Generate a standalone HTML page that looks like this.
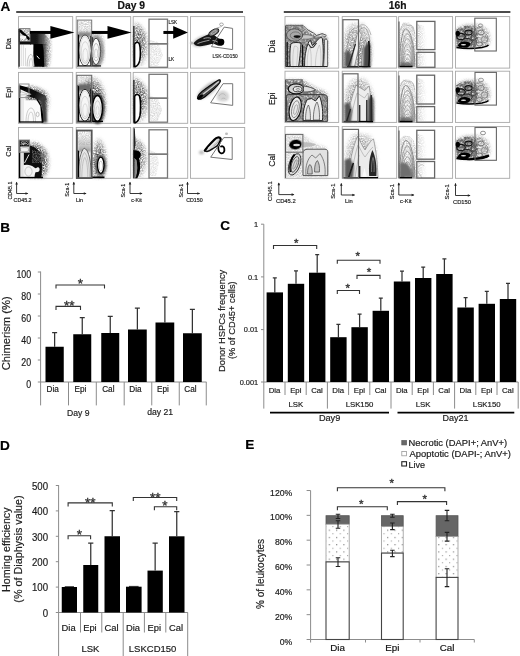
<!DOCTYPE html><html><head><meta charset="utf-8"><title>Figure</title>
<style>html,body{margin:0;padding:0;background:#fff;}svg{display:block;}text{font-family:'Liberation Sans', Arial, Helvetica, sans-serif;stroke:currentColor;stroke-width:0.18px;}</style></head><body>
<svg width="520" height="656" viewBox="0 0 520 656">
<defs>
<filter id="b05" x="-20%" y="-20%" width="140%" height="140%"><feGaussianBlur stdDeviation="0.5"/></filter>
<filter id="b1" x="-30%" y="-30%" width="160%" height="160%"><feGaussianBlur stdDeviation="1"/></filter>
<filter id="b2" x="-30%" y="-30%" width="160%" height="160%"><feGaussianBlur stdDeviation="2"/></filter>
<filter id="spk" x="-10%" y="-10%" width="120%" height="120%"><feGaussianBlur in="SourceGraphic" stdDeviation="1.6" result="bl"/><feTurbulence type="fractalNoise" baseFrequency="0.75" numOctaves="2" seed="7" result="n"/><feColorMatrix in="n" type="matrix" values="0 0 0 0 0  0 0 0 0 0  0 0 0 0 0  1.8 0 0 0 -0.35" result="m"/><feComposite in="bl" in2="m" operator="in"/></filter>
<filter id="spk2" x="-10%" y="-10%" width="120%" height="120%"><feGaussianBlur in="SourceGraphic" stdDeviation="0.6" result="bl"/><feTurbulence type="fractalNoise" baseFrequency="0.9" numOctaves="2" seed="11" result="n"/><feColorMatrix in="n" type="matrix" values="0 0 0 0 0  0 0 0 0 0  0 0 0 0 0  2.2 0 0 0 -0.55" result="m"/><feComposite in="bl" in2="m" operator="in"/></filter>
<filter id="mot" x="0" y="0" width="100%" height="100%"><feTurbulence type="fractalNoise" baseFrequency="0.45" numOctaves="2" seed="5" result="n"/><feColorMatrix in="n" type="matrix" values="0 0 0 0 0  0 0 0 0 0  0 0 0 0 0  0 0 0 2.2 -0.45" result="m"/><feComposite in="SourceGraphic" in2="m" operator="in"/></filter>
<pattern id="hatch" width="2.6" height="2.6" patternUnits="userSpaceOnUse" patternTransform="rotate(45)"><rect width="2.6" height="2.6" fill="none"/><rect width="0.5" height="2.6" fill="#d6d6d6"/></pattern>
</defs>
<rect width="520" height="656" fill="#fff"/>
<text x="0.6" y="10.6" font-size="13.6" text-anchor="start" font-weight="bold" fill="#000" color="#000">A</text>
<text x="131.3" y="8.6" font-size="10.3" text-anchor="middle" font-weight="bold" fill="#111" color="#111">Day 9</text>
<text x="397.6" y="8.6" font-size="10.3" text-anchor="middle" font-weight="bold" fill="#111" color="#111">16h</text>
<line x1="16.2" y1="12.0" x2="243.0" y2="12.0" stroke="#111" stroke-width="1.4"/>
<line x1="283.8" y1="12.0" x2="510.4" y2="12.0" stroke="#111" stroke-width="1.4"/>
<rect x="18.5" y="16.6" width="54.2" height="51.49999999999999" fill="#fff" stroke="#a8a8a8" stroke-width="0.9"/>
<rect x="18.5" y="72.4" width="54.2" height="50.89999999999999" fill="#fff" stroke="#a8a8a8" stroke-width="0.9"/>
<rect x="18.5" y="127.5" width="54.2" height="50.80000000000001" fill="#fff" stroke="#a8a8a8" stroke-width="0.9"/>
<rect x="76.2" y="16.6" width="54.499999999999986" height="51.49999999999999" fill="#fff" stroke="#a8a8a8" stroke-width="0.9"/>
<rect x="76.2" y="72.4" width="54.499999999999986" height="50.89999999999999" fill="#fff" stroke="#a8a8a8" stroke-width="0.9"/>
<rect x="76.2" y="127.5" width="54.499999999999986" height="50.80000000000001" fill="#fff" stroke="#a8a8a8" stroke-width="0.9"/>
<rect x="133.2" y="16.6" width="54.5" height="51.49999999999999" fill="#fff" stroke="#a8a8a8" stroke-width="0.9"/>
<rect x="133.2" y="72.4" width="54.5" height="50.89999999999999" fill="#fff" stroke="#a8a8a8" stroke-width="0.9"/>
<rect x="133.2" y="127.5" width="54.5" height="50.80000000000001" fill="#fff" stroke="#a8a8a8" stroke-width="0.9"/>
<rect x="190.5" y="16.6" width="54.19999999999999" height="51.49999999999999" fill="#fff" stroke="#a8a8a8" stroke-width="0.9"/>
<rect x="190.5" y="72.4" width="54.19999999999999" height="50.89999999999999" fill="#fff" stroke="#a8a8a8" stroke-width="0.9"/>
<rect x="190.5" y="127.5" width="54.19999999999999" height="50.80000000000001" fill="#fff" stroke="#a8a8a8" stroke-width="0.9"/>
<rect x="285" y="16.6" width="53.69999999999999" height="51.49999999999999" fill="#fff" stroke="#a8a8a8" stroke-width="0.9"/>
<rect x="285" y="71.2" width="53.69999999999999" height="51.2" fill="#fff" stroke="#a8a8a8" stroke-width="0.9"/>
<rect x="285" y="126.6" width="53.69999999999999" height="51.70000000000002" fill="#fff" stroke="#a8a8a8" stroke-width="0.9"/>
<rect x="342.2" y="16.6" width="54.5" height="51.49999999999999" fill="#fff" stroke="#a8a8a8" stroke-width="0.9"/>
<rect x="342.2" y="71.2" width="54.5" height="51.2" fill="#fff" stroke="#a8a8a8" stroke-width="0.9"/>
<rect x="342.2" y="126.6" width="54.5" height="51.70000000000002" fill="#fff" stroke="#a8a8a8" stroke-width="0.9"/>
<rect x="398.6" y="16.6" width="54.0" height="51.49999999999999" fill="#fff" stroke="#a8a8a8" stroke-width="0.9"/>
<rect x="398.6" y="71.2" width="54.0" height="51.2" fill="#fff" stroke="#a8a8a8" stroke-width="0.9"/>
<rect x="398.6" y="126.6" width="54.0" height="51.70000000000002" fill="#fff" stroke="#a8a8a8" stroke-width="0.9"/>
<rect x="455.5" y="16.6" width="54.19999999999999" height="51.49999999999999" fill="#fff" stroke="#a8a8a8" stroke-width="0.9"/>
<rect x="455.5" y="71.2" width="54.19999999999999" height="51.2" fill="#fff" stroke="#a8a8a8" stroke-width="0.9"/>
<rect x="455.5" y="126.6" width="54.19999999999999" height="51.70000000000002" fill="#fff" stroke="#a8a8a8" stroke-width="0.9"/>
<text x="11.0" y="43.8" font-size="7.4" text-anchor="middle" font-weight="normal" fill="#222" color="#222" transform="rotate(-90 11.0 43.8)">Dia</text>
<text x="11.0" y="92.4" font-size="7.4" text-anchor="middle" font-weight="normal" fill="#222" color="#222" transform="rotate(-90 11.0 92.4)">Epi</text>
<text x="11.0" y="151.1" font-size="7.4" text-anchor="middle" font-weight="normal" fill="#222" color="#222" transform="rotate(-90 11.0 151.1)">Cal</text>
<text x="274.6" y="46.3" font-size="8.6" text-anchor="middle" font-weight="normal" fill="#222" color="#222" transform="rotate(-90 274.6 46.3)">Dia</text>
<text x="274.6" y="98.8" font-size="8.6" text-anchor="middle" font-weight="normal" fill="#222" color="#222" transform="rotate(-90 274.6 98.8)">Epi</text>
<text x="274.6" y="160.2" font-size="8.6" text-anchor="middle" font-weight="normal" fill="#222" color="#222" transform="rotate(-90 274.6 160.2)">Cal</text>
<path d="M16.6,182.3 V193.5 H27.7" fill="none" stroke="#222" stroke-width="0.9"/>
<path d="M15.3,184.5 L16.6,181.70000000000002 L17.900000000000002,184.5Z M25.5,192.2 L28.3,193.5 L25.5,194.8Z" fill="#222"/>
<text x="13.6" y="201.8" font-size="5.3" text-anchor="start" font-weight="normal" fill="#222" color="#222">CD45.2</text>
<text x="12.0" y="190.6" font-size="5.3" text-anchor="middle" font-weight="normal" fill="#222" color="#222" transform="rotate(-90 12.0 190.6)">CD45.1</text>
<path d="M73.8,182.3 V193.5 H86.0" fill="none" stroke="#222" stroke-width="0.9"/>
<path d="M72.5,184.5 L73.8,181.70000000000002 L75.1,184.5Z M83.8,192.2 L86.6,193.5 L83.8,194.8Z" fill="#222"/>
<text x="76.0" y="201.8" font-size="5.3" text-anchor="start" font-weight="normal" fill="#222" color="#222">Lin</text>
<text x="68.8" y="189.8" font-size="5.3" text-anchor="middle" font-weight="normal" fill="#222" color="#222" transform="rotate(-90 68.8 189.8)">Sca-1</text>
<path d="M130.0,182.3 V193.5 H142.0" fill="none" stroke="#222" stroke-width="0.9"/>
<path d="M128.7,184.5 L130.0,181.70000000000002 L131.3,184.5Z M139.8,192.2 L142.6,193.5 L139.8,194.8Z" fill="#222"/>
<text x="131.2" y="201.8" font-size="5.3" text-anchor="start" font-weight="normal" fill="#222" color="#222">c-Kit</text>
<text x="125.0" y="190.6" font-size="5.3" text-anchor="middle" font-weight="normal" fill="#222" color="#222" transform="rotate(-90 125.0 190.6)">Sca-1</text>
<path d="M187.5,182.3 V193.5 H199.5" fill="none" stroke="#222" stroke-width="0.9"/>
<path d="M186.2,184.5 L187.5,181.70000000000002 L188.8,184.5Z M197.3,192.2 L200.1,193.5 L197.3,194.8Z" fill="#222"/>
<text x="186.2" y="201.8" font-size="5.3" text-anchor="start" font-weight="normal" fill="#222" color="#222">CD150</text>
<text x="183.0" y="190.6" font-size="5.3" text-anchor="middle" font-weight="normal" fill="#222" color="#222" transform="rotate(-90 183.0 190.6)">Sca-1</text>
<path d="M278.8,183.0 V194.6 H293.8" fill="none" stroke="#222" stroke-width="0.9"/>
<path d="M277.5,185.2 L278.8,182.4 L280.1,185.2Z M291.6,193.29999999999998 L294.40000000000003,194.6 L291.6,195.9Z" fill="#222"/>
<text x="276.0" y="202.9" font-size="5.8" text-anchor="start" font-weight="normal" fill="#222" color="#222">CD45.2</text>
<text x="272.4" y="191.2" font-size="5.8" text-anchor="middle" font-weight="normal" fill="#222" color="#222" transform="rotate(-90 272.4 191.2)">CD45.1</text>
<path d="M341.3,183.5 V195.0 H354.5" fill="none" stroke="#222" stroke-width="0.9"/>
<path d="M340.0,185.7 L341.3,182.9 L342.6,185.7Z M352.3,193.7 L355.1,195.0 L352.3,196.3Z" fill="#222"/>
<text x="345.0" y="203.3" font-size="5.8" text-anchor="start" font-weight="normal" fill="#222" color="#222">Lin</text>
<text x="335.0" y="191.2" font-size="5.8" text-anchor="middle" font-weight="normal" fill="#222" color="#222" transform="rotate(-90 335.0 191.2)">Sca-1</text>
<path d="M398.8,183.0 V195.0 H413.8" fill="none" stroke="#222" stroke-width="0.9"/>
<path d="M397.5,185.2 L398.8,182.4 L400.1,185.2Z M411.6,193.7 L414.40000000000003,195.0 L411.6,196.3Z" fill="#222"/>
<text x="400.0" y="203.3" font-size="5.8" text-anchor="start" font-weight="normal" fill="#222" color="#222">c-Kit</text>
<text x="393.6" y="191.6" font-size="5.8" text-anchor="middle" font-weight="normal" fill="#222" color="#222" transform="rotate(-90 393.6 191.6)">Sca-1</text>
<path d="M455.5,183.5 V195.5 H470.0" fill="none" stroke="#222" stroke-width="0.9"/>
<path d="M454.2,185.7 L455.5,182.9 L456.8,185.7Z M467.8,194.2 L470.6,195.5 L467.8,196.8Z" fill="#222"/>
<text x="453.0" y="203.8" font-size="5.8" text-anchor="start" font-weight="normal" fill="#222" color="#222">CD150</text>
<text x="449.4" y="191.8" font-size="5.8" text-anchor="middle" font-weight="normal" fill="#222" color="#222" transform="rotate(-90 449.4 191.8)">Sca-1</text>
<defs><linearGradient id="g1" gradientUnits="userSpaceOnUse" x1="30" y1="0" x2="50" y2="0"><stop offset="0" stop-color="#111" stop-opacity="1"/><stop offset="0.35" stop-color="#1a1a1a" stop-opacity="1"/><stop offset="0.7" stop-color="#555" stop-opacity="0.9"/><stop offset="1" stop-color="#999" stop-opacity="0"/></linearGradient></defs>
<polygon points="30,33.6 46,33.6 50.5,40 50.5,55 49,66.8 30,66.8" fill="#8a8a8a" filter="url(#spk)"/>
<polygon points="30,34.0 45,34.0 49.5,39 49.5,45 30,45" fill="url(#g1)" filter="url(#b05)"/>
<defs><linearGradient id="g2" gradientUnits="userSpaceOnUse" x1="42" y1="0" x2="49" y2="0"><stop offset="0" stop-color="#222" stop-opacity="1"/><stop offset="0.5" stop-color="#555" stop-opacity="0.8"/><stop offset="1" stop-color="#999" stop-opacity="0"/></linearGradient></defs>
<polygon points="41.5,44 49,44 49.2,66.7 42,66.7" fill="url(#g2)" filter="url(#b05)"/>
<polygon points="33,44 42.5,44 43.6,50 44.2,66.7 33.4,66.7" fill="#050505" filter="url(#b05)"/>
<polygon points="20.4,44.4 33.4,44.4 33.2,55 34.4,66.5 20.4,66.5" fill="#fbfbfb"/>
<path d="M27.2,66.4 C27,60 28.8,54.5 30.8,54.5 C32.8,54.5 33.8,60 33.8,66.4" fill="none" stroke="#9a9a9a" stroke-width="0.6"/>
<path d="M29.2,66.4 C29.2,62 30,58.5 31,58.5 C32.2,58.5 32.6,62 32.6,66.4" fill="none" stroke="#aaa" stroke-width="0.6"/>
<path d="M21.3,45 V66 M23.4,45 V66 M25.5,48 V66" fill="none" stroke="#c6c6c6" stroke-width="0.6"/>
<path d="M36.8,55.8 L39.4,58.8" fill="none" stroke="#fff" stroke-width="1.0"/>
<polygon points="19.3,28.7 30,28.7 30,41.2 19.3,41.2" fill="#9a9a9a" filter="url(#spk2)"/>
<path d="M19.6,30.2 L29.6,39.4" fill="none" stroke="#000" stroke-width="2.6" filter="url(#b05)"/>
<ellipse cx="23.2" cy="37.2" rx="3.2" ry="1.8" fill="#f6f6f6" stroke="none" stroke-width="1"/>
<polygon points="19.6,41 30,41 31,44.5 19.6,44.5" fill="#111" filter="url(#b05)"/>
<rect x="19.25" y="28.6" width="10.75" height="12.699999999999996" fill="none" stroke="#777" stroke-width="0.9"/>
<line x1="19.1" y1="29" x2="19.1" y2="66.8" stroke="#111" stroke-width="1.2"/>
<line x1="30" y1="32.45" x2="51.4" y2="32.45" stroke="#000" stroke-width="3.0"/>
<polygon points="50.4,26.1 74.4,32.45 50.4,38.800000000000004" fill="#000"/>
<rect x="77.6" y="21" width="14" height="13" fill="#cfcfcf" stroke="none" stroke-width="1" filter="url(#spk2)"/>
<polygon points="78,32 91.2,32 91.2,37.5 78,37.5" fill="#8a8a8a" filter="url(#b1)"/>
<ellipse cx="96.2" cy="51.2" rx="7.6" ry="15.6" fill="#7a7a7a" stroke="none" stroke-width="1" filter="url(#b1)"/>
<polygon points="92,33 101,34 104,40 104,60 100,66.5 92,66.5" fill="#aaa" filter="url(#spk)"/>
<polygon points="90.3,35.5 92.8,37.5 92.6,65.8 90.3,65.8" fill="#111" filter="url(#b05)"/>
<ellipse cx="85.0" cy="50.4" rx="6.1" ry="15.4" fill="#f0f0f0" stroke="#333" stroke-width="0.9"/>
<ellipse cx="85.0" cy="50.4" rx="5.4" ry="14.6" fill="#f6f6f6" stroke="none" stroke-width="1"/>
<ellipse cx="85.0" cy="50.0" rx="4.8" ry="13.4" fill="none" stroke="#c8c8c8" stroke-width="0.5"/>
<ellipse cx="85.2" cy="52.5" rx="4.0" ry="10.8" fill="none" stroke="#bdbdbd" stroke-width="0.55"/>
<ellipse cx="85.3" cy="55" rx="2.4" ry="6.5" fill="none" stroke="#c4c4c4" stroke-width="0.55"/>
<ellipse cx="96.05" cy="51.4" rx="4.35" ry="13.2" fill="#fbfbfb" stroke="#333" stroke-width="0.9"/>
<ellipse cx="96.1" cy="52.2" rx="2.9" ry="8.8" fill="none" stroke="#999" stroke-width="0.6"/>
<ellipse cx="96.1" cy="53.4" rx="1.5" ry="4.6" fill="none" stroke="#aaa" stroke-width="0.55"/>
<polygon points="77.5,34 79.2,35 79.2,66.4 77.5,66.4" fill="#000"/>
<line x1="77.6" y1="65.9" x2="101" y2="65.9" stroke="#111" stroke-width="1.2"/>
<rect x="77.3" y="20.1" width="14.400000000000006" height="46.49999999999999" fill="none" stroke="#777" stroke-width="1.0"/>
<line x1="91.7" y1="32.45" x2="108.5" y2="32.45" stroke="#000" stroke-width="3.0"/>
<polygon points="107.5,26.1 131.6,32.45 107.5,38.800000000000004" fill="#000"/>
<defs><radialGradient id="g3" gradientUnits="userSpaceOnUse" cx="138" cy="44" r="12" gradientTransform="translate(0 44) scale(1 2.1666666666666665) translate(0 -44)"><stop offset="0" stop-color="#333" stop-opacity="1"/><stop offset="0.45" stop-color="#555" stop-opacity="1"/><stop offset="0.75" stop-color="#999" stop-opacity="0.8"/><stop offset="1" stop-color="#ccc" stop-opacity="0"/></radialGradient></defs>
<polygon points="133.6,20 140,24 146,32 149,44 148,58 146,67 133.6,67" fill="url(#g3)" filter="url(#spk)"/>
<polygon points="150,40 158,42 163,55 158,66 150,66" fill="#e0e0e0" filter="url(#spk2)"/>
<path d="M134.6,66.6 L134.6,44.2 C135.4,42.2 137.6,41.6 139.2,43.6 C140.6,47.2 140.6,56 139.8,60.2 C139,63.8 137.2,66.2 135.2,66.8 Z" fill="#fff" stroke="#000" stroke-width="1.5"/>
<line x1="133.9" y1="26" x2="133.9" y2="67.2" stroke="#111" stroke-width="1.2"/>
<rect x="149" y="19.2" width="18.5" height="24.599999999999998" fill="none" stroke="#777" stroke-width="1.3"/>
<rect x="149" y="43.8" width="18.5" height="23.5" fill="none" stroke="#777" stroke-width="1.3"/>
<text x="168.5" y="23.9" font-size="5.0" text-anchor="start" font-weight="normal" fill="#222" color="#222" textLength="8.6" lengthAdjust="spacingAndGlyphs">LSK</text>
<text x="168.5" y="60.7" font-size="5.0" text-anchor="start" font-weight="normal" fill="#222" color="#222" textLength="5.6" lengthAdjust="spacingAndGlyphs">LK</text>
<line x1="163.4" y1="32.45" x2="174.2" y2="32.45" stroke="#000" stroke-width="3.0"/>
<polygon points="173.2,26.1 187.9,32.45 173.2,38.800000000000004" fill="#000"/>
<ellipse cx="203" cy="41" rx="11" ry="5" fill="#c4c4c4" stroke="none" stroke-width="1" transform="rotate(-20 203 41)" filter="url(#b1)"/>
<path d="M193.5,43.2 C196,39.6 202,37 208,34.5 C211,33.2 214,34.5 216,36.5 C218,38.5 220,38.8 222.5,39.2 C224.6,40.2 224.8,43.8 222.6,45.2 C220.4,46.4 217.6,45.6 215.4,44.4 C213,43.4 210,44.2 205,45.6 C199,47 195,46.2 193.5,43.2 Z" fill="#161616" stroke="none" stroke-width="1" filter="url(#b05)"/>
<ellipse cx="213.8" cy="32.4" rx="5.6" ry="2.6" fill="#7a7a7a" stroke="#111" stroke-width="0.9" transform="rotate(-32 213.8 32.4)"/>
<ellipse cx="213.8" cy="32.4" rx="3.0" ry="1.1" fill="none" stroke="#ccc" stroke-width="0.6" transform="rotate(-32 213.8 32.4)"/>
<path d="M197.5,43.6 C201,42 205,41.2 209.5,40.2 M203.5,38.6 C206.5,37.6 209,37.4 211,38.4 M212.5,40.6 C215,40.4 217,41.4 218.4,42.6" fill="none" stroke="#d8d8d8" stroke-width="0.7"/>
<ellipse cx="221.0" cy="42.0" rx="3.3" ry="3.3" fill="#050505" stroke="none" stroke-width="1" filter="url(#b05)"/>
<path d="M214.4,28.9 L221.8,26.4 M212.4,31.2 L218.6,27.6" fill="none" stroke="#999" stroke-width="0.6"/>
<ellipse cx="221.5" cy="24.4" rx="1.9" ry="1.4" fill="none" stroke="#888" stroke-width="0.7"/>
<ellipse cx="191.5" cy="43" rx="1.8" ry="1.5" fill="#bbb" stroke="none" stroke-width="1" filter="url(#b05)"/>
<polygon points="224.2,27.1 232.6,28.4 232.6,49.6 211.4,46.6" fill="none" stroke="#777" stroke-width="1.0"/>
<text x="212.4" y="58.4" font-size="6.2" text-anchor="start" font-weight="normal" fill="#222" color="#222" textLength="25.3" lengthAdjust="spacingAndGlyphs">LSK-CD150</text>
<defs><radialGradient id="g4" gradientUnits="userSpaceOnUse" cx="36" cy="100" r="15" gradientTransform="translate(0 100) scale(1 1.6) translate(0 -100)"><stop offset="0" stop-color="#222" stop-opacity="1"/><stop offset="0.5" stop-color="#444" stop-opacity="1"/><stop offset="0.8" stop-color="#888" stop-opacity="0.8"/><stop offset="1" stop-color="#ccc" stop-opacity="0"/></radialGradient></defs>
<polygon points="26,85 36,87 46,91 51,100 50,112 47.5,122.6 26,122.6" fill="url(#g4)" filter="url(#spk)"/>
<defs><linearGradient id="g5" gradientUnits="userSpaceOnUse" x1="20" y1="86" x2="46" y2="100"><stop offset="0" stop-color="#000" stop-opacity="1"/><stop offset="0.6" stop-color="#111" stop-opacity="1"/><stop offset="1" stop-color="#444" stop-opacity="0.9"/></linearGradient></defs>
<polygon points="19.6,85.2 28,87.6 37,91.4 45.5,95.5 47,100 42,101.5 36,99 29,96.5 19.6,92.5" fill="url(#g5)" filter="url(#b05)"/>
<polygon points="40,98 46,98.5 47.2,122.6 42.6,122.6" fill="#3a3a3a" filter="url(#b1)"/>
<path d="M36.5,99.6 C40,103 42,110 42.6,122.5" fill="none" stroke="#000" stroke-width="2.2"/>
<polygon points="20.3,89.2 31.5,94.2 20.3,97.2" fill="#f4f4f4"/>
<path d="M20.5,91.5 L28.5,94.3 M20.5,95 L27,94.6" fill="none" stroke="#9a9a9a" stroke-width="0.5"/>
<polygon points="24,100.2 36.8,100.2 40.3,106 41.6,122 24,122" fill="#fbfbfb"/>
<path d="M26,122 C26,114 28,108 31,108 C34,108 35.5,114 35.5,122 M28,122 C28,116 29.5,112 31,112 C32.5,112 33.5,116 33.5,122" fill="none" stroke="#b0b0b0" stroke-width="0.6"/>
<ellipse cx="37.6" cy="114.4" rx="1.5" ry="2.3" fill="none" stroke="#999" stroke-width="0.6"/>
<rect x="20.3" y="97.4" width="3.6" height="24.6" fill="#f6f6f6" stroke="none" stroke-width="1"/>
<path d="M21.2,98 V122 M23,98 V122" fill="none" stroke="#c0c0c0" stroke-width="0.5"/>
<line x1="19.6" y1="85.5" x2="19.6" y2="122.6" stroke="#000" stroke-width="1.4"/>
<line x1="19.6" y1="122.0" x2="43" y2="122.0" stroke="#000" stroke-width="1.3"/>
<rect x="19.3" y="84.0" width="9.7" height="13.400000000000006" fill="none" stroke="#888" stroke-width="0.9"/>
<rect x="77.5" y="76" width="14" height="10" fill="#d4d4d4" stroke="none" stroke-width="1" filter="url(#spk2)"/>
<defs><radialGradient id="g6" gradientUnits="userSpaceOnUse" cx="92" cy="104" r="16" gradientTransform="translate(0 104) scale(1 1.875) translate(0 -104)"><stop offset="0" stop-color="#222" stop-opacity="1"/><stop offset="0.55" stop-color="#333" stop-opacity="1"/><stop offset="0.8" stop-color="#777" stop-opacity="0.8"/><stop offset="1" stop-color="#bbb" stop-opacity="0"/></radialGradient></defs>
<polygon points="77.5,80 92,76 101,77 106,84 107.5,100 107,122 77.5,122" fill="url(#g6)" filter="url(#spk)"/>
<polygon points="78,84 91.2,84 91.2,91 78,91" fill="#6a6a6a" filter="url(#b1)"/>
<ellipse cx="97.6" cy="108.5" rx="7.0" ry="15.6" fill="#3a3a3a" stroke="none" stroke-width="1" filter="url(#b1)"/>
<polygon points="90.2,88.5 93.2,91.5 93.2,121.8 90.2,121.8" fill="#0a0a0a" filter="url(#b05)"/>
<ellipse cx="84.9" cy="105.2" rx="6.0" ry="15.9" fill="#efefef" stroke="#1a1a1a" stroke-width="1.0"/>
<ellipse cx="84.9" cy="105.2" rx="5.3" ry="15.2" fill="#f6f6f6" stroke="none" stroke-width="1"/>
<ellipse cx="84.9" cy="104.8" rx="4.8" ry="13.8" fill="none" stroke="#c8c8c8" stroke-width="0.5"/>
<ellipse cx="85.0" cy="107.5" rx="4.0" ry="11.2" fill="none" stroke="#bcbcbc" stroke-width="0.55"/>
<ellipse cx="85.1" cy="110.2" rx="2.3" ry="6.5" fill="none" stroke="#c4c4c4" stroke-width="0.55"/>
<ellipse cx="97.45" cy="108.45" rx="4.95" ry="12.95" fill="#f6f6f6" stroke="#000" stroke-width="1.4"/>
<ellipse cx="97.5" cy="109.4" rx="3.1" ry="8.6" fill="none" stroke="#aaa" stroke-width="0.55"/>
<ellipse cx="97.5" cy="110.6" rx="1.6" ry="4.6" fill="none" stroke="#b4b4b4" stroke-width="0.5"/>
<polygon points="77.4,85 79.2,86.5 79.2,122 77.4,122" fill="#000"/>
<line x1="77.4" y1="121.4" x2="103" y2="121.4" stroke="#000" stroke-width="1.4"/>
<rect x="76.9" y="75.3" width="14.799999999999997" height="46.900000000000006" fill="none" stroke="#6a6a6a" stroke-width="1.1"/>
<defs><radialGradient id="g7" gradientUnits="userSpaceOnUse" cx="138" cy="98" r="13" gradientTransform="translate(0 98) scale(1 2.1538461538461537) translate(0 -98)"><stop offset="0" stop-color="#333" stop-opacity="1"/><stop offset="0.45" stop-color="#555" stop-opacity="1"/><stop offset="0.75" stop-color="#999" stop-opacity="0.8"/><stop offset="1" stop-color="#ccc" stop-opacity="0"/></radialGradient></defs>
<polygon points="133.6,76 140,80 147,88 151,100 150,112 147,122.6 133.6,122.6" fill="url(#g7)" filter="url(#spk)"/>
<polygon points="149.5,96 158,98 162,110 158,121 149.5,121" fill="#dadada" filter="url(#spk2)"/>
<path d="M134.6,122.6 L134.6,96.6 C135.4,94.2 137.8,93.6 139.4,95.8 C140.8,100 140.8,110 140,115.4 C139.2,119.2 137.4,122 135.2,122.8 Z" fill="#fff" stroke="#000" stroke-width="1.6"/>
<line x1="133.9" y1="80" x2="133.9" y2="122.8" stroke="#111" stroke-width="1.2"/>
<rect x="149" y="74.3" width="18.5" height="23.900000000000006" fill="none" stroke="#777" stroke-width="1.3"/>
<rect x="149" y="98.2" width="18.5" height="24.0" fill="none" stroke="#777" stroke-width="1.3"/>
<ellipse cx="208" cy="90" rx="13" ry="4.8" fill="#b4b4b4" stroke="none" stroke-width="1" transform="rotate(-39 208 90)" filter="url(#b1)"/>
<path d="M197.5,98.5 C197,95 201,92 206,88.5 C211,85 215,82 218.5,80 C220.5,79.2 221,81 219.5,83 C216.5,87 212,91 207,95 C203,98.5 199.5,100.5 197.5,98.5 Z" fill="#5a5a5a" stroke="#0a0a0a" stroke-width="1.2"/>
<path d="M199.5,97.2 C203,94.2 208,90.2 213,86.4 C215.5,84.4 217.5,82.8 218.8,81.6" fill="none" stroke="#d0d0d0" stroke-width="1.3"/>
<path d="M200.5,97.8 C205,94.6 210,90.8 216,85.6" fill="none" stroke="#222" stroke-width="0.7"/>
<path d="M197.4,98.2 C198.5,95.6 201,94.4 203.5,94.2 C203,96.6 201,98.8 198.6,99.4 Z" fill="#000" stroke="none" stroke-width="1" filter="url(#b05)"/>
<path d="M217,94 C219,90.5 223,89.6 226,91.4 C229,93 230,97 228,100 C225,102.4 219,102 217,99 Z" fill="#d4d4d4" stroke="none" stroke-width="1" filter="url(#b1)"/>
<path d="M219,96 C221,93 224,93 225.5,95.5 M221.5,99 C223,97.5 225,98 226,99.5" fill="none" stroke="#aaa" stroke-width="0.6"/>
<polygon points="223,83.7 232.7,83.7 232.7,105.4 210.6,102.8" fill="none" stroke="#777" stroke-width="1.0"/>
<defs><radialGradient id="g8" gradientUnits="userSpaceOnUse" cx="36" cy="162" r="15" gradientTransform="translate(0 162) scale(1 1.6) translate(0 -162)"><stop offset="0" stop-color="#111" stop-opacity="1"/><stop offset="0.55" stop-color="#222" stop-opacity="1"/><stop offset="0.8" stop-color="#777" stop-opacity="0.85"/><stop offset="1" stop-color="#ccc" stop-opacity="0"/></radialGradient></defs>
<polygon points="28,140 38,142.5 47,150 51,161 49.5,171 46,178 28,178" fill="url(#g8)" filter="url(#spk)"/>
<polygon points="29.4,145 35,147.5 40,152 41.5,160 42,166 41.5,177.8 23.5,177.8 23.5,152.4 29.4,152.4" fill="#0e0e0e" filter="url(#b05)"/>
<path d="M24.5,163 L29,154.5" fill="none" stroke="#ddd" stroke-width="1.0"/>
<polygon points="32,150 44.5,152.5 45,163 32,163" fill="#5a5a5a" filter="url(#spk2)"/>
<rect x="19.4" y="140.2" width="10.1" height="6.3" fill="#111" stroke="none" stroke-width="1"/>
<rect x="20.5" y="141.4" width="8.3" height="3.8" fill="#cfcfcf" stroke="none" stroke-width="1" filter="url(#spk2)"/>
<ellipse cx="24.4" cy="149.6" rx="4.2" ry="2.1" fill="#f2f2f2" stroke="#888" stroke-width="0.5"/>
<path d="M22,165.8 C26,164 31,164.5 34.3,167.6 C35.5,168.8 36.2,168.4 37,167.6 C38.8,166.4 40,168.4 39.5,170.2 C39,172 37,172.4 35.8,172 C35,173 34.6,175.5 34.5,177.4 L22,177.4 Z" fill="#f3f3f3" stroke="none" stroke-width="1"/>
<ellipse cx="28.5" cy="171.5" rx="3.6" ry="4.6" fill="none" stroke="#aaa" stroke-width="0.6"/>
<rect x="20.2" y="152.8" width="3.4" height="24.6" fill="#f4f4f4" stroke="none" stroke-width="1"/>
<path d="M21.2,153 V177.4 M22.8,153 V177.4" fill="none" stroke="#c0c0c0" stroke-width="0.5"/>
<line x1="19.6" y1="140.2" x2="19.6" y2="178.0" stroke="#000" stroke-width="1.4"/>
<line x1="19.6" y1="177.5" x2="43" y2="177.5" stroke="#000" stroke-width="1.3"/>
<rect x="19.3" y="140.0" width="10.3" height="12.300000000000011" fill="none" stroke="#888" stroke-width="0.9"/>
<rect x="77.5" y="131" width="14" height="14" fill="#d2d2d2" stroke="none" stroke-width="1" filter="url(#spk2)"/>
<defs><linearGradient id="g9" gradientUnits="userSpaceOnUse" x1="0" y1="138" x2="0" y2="152"><stop offset="0" stop-color="#bbb" stop-opacity="0.2"/><stop offset="1" stop-color="#888" stop-opacity="0.9"/></linearGradient></defs>
<polygon points="78,138 91.2,138 91.2,152 78,152" fill="url(#g9)" filter="url(#b1)"/>
<defs><radialGradient id="g10" gradientUnits="userSpaceOnUse" cx="99" cy="162" r="9" gradientTransform="translate(0 162) scale(1 2.888888888888889) translate(0 -162)"><stop offset="0" stop-color="#333" stop-opacity="1"/><stop offset="0.5" stop-color="#555" stop-opacity="1"/><stop offset="0.8" stop-color="#999" stop-opacity="0.8"/><stop offset="1" stop-color="#ccc" stop-opacity="0"/></radialGradient></defs>
<polygon points="91.5,134 100,136 106,146 108,160 107,178 91.5,178" fill="url(#g10)" filter="url(#spk)"/>
<ellipse cx="100.75" cy="165.3" rx="5.4" ry="10.6" fill="#555" stroke="none" stroke-width="1" filter="url(#b1)"/>
<path d="M78.2,178 C78.2,161 81,150.5 84.2,148.2 C88,149.5 91.2,158 91.2,178 Z" fill="#e6e6e6" stroke="#444" stroke-width="0.8"/>
<path d="M80,178 C80,163 82.5,154 84.5,152.5 C87.5,155 89.5,165 89.5,178 M81.8,178 C81.8,166 83.5,158.5 84.8,157.5 C86.8,160 87.8,168 87.8,178" fill="none" stroke="#a0a0a0" stroke-width="0.55"/>
<ellipse cx="100.75" cy="165.25" rx="3.25" ry="8.05" fill="#fff" stroke="#000" stroke-width="1.3"/>
<ellipse cx="100.8" cy="166.0" rx="1.8" ry="4.8" fill="none" stroke="#999" stroke-width="0.55"/>
<polygon points="77.4,150 79.2,151 79.2,178 77.4,178" fill="#000"/>
<line x1="92" y1="177.3" x2="104.5" y2="177.3" stroke="#000" stroke-width="1.6"/>
<rect x="76.9" y="130.5" width="14.799999999999997" height="47.599999999999994" fill="none" stroke="#555" stroke-width="1.8"/>
<defs><radialGradient id="g11" gradientUnits="userSpaceOnUse" cx="138" cy="156" r="11" gradientTransform="translate(0 156) scale(1 2.3636363636363638) translate(0 -156)"><stop offset="0" stop-color="#555" stop-opacity="1"/><stop offset="0.5" stop-color="#777" stop-opacity="0.9"/><stop offset="0.8" stop-color="#aaa" stop-opacity="0.7"/><stop offset="1" stop-color="#ddd" stop-opacity="0"/></radialGradient></defs>
<polygon points="133.6,136 140,140 146,148 148,160 146.5,170 145,178 133.6,178" fill="url(#g11)" filter="url(#spk)"/>
<polygon points="149.5,150 156,152 159,162 156,176 149.5,176" fill="#e2e2e2" filter="url(#spk2)"/>
<polygon points="133.6,128 134.8,128.5 135.6,144 134.6,150 133.6,150" fill="#222" filter="url(#b05)"/>
<path d="M133.8,150.4 C136.2,149.6 139.4,150.6 140.6,153 C141.2,155.5 140.2,157.5 139,158.5 C140.4,163 140.6,168 139.6,172 C139,175 138,177 137.2,178.2 L134.8,178.2 C136.4,175 137.2,171 137,166 C136.8,162 136,159.5 134.8,158.5 L133.8,158 Z" fill="#000" stroke="none" stroke-width="1" filter="url(#b05)"/>
<polygon points="134.6,159 136.6,160 137.4,168 136,177.5 134.6,177.5" fill="#888" filter="url(#b05)"/>
<line x1="133.9" y1="150" x2="133.9" y2="178.2" stroke="#000" stroke-width="1.2"/>
<ellipse cx="138" cy="146" rx="1.6" ry="1.3" fill="none" stroke="#bbb" stroke-width="0.6"/>
<ellipse cx="141.5" cy="148" rx="1.4" ry="1.2" fill="none" stroke="#bbb" stroke-width="0.6"/>
<rect x="149" y="129.8" width="18.5" height="24.399999999999977" fill="none" stroke="#777" stroke-width="1.3"/>
<rect x="149" y="154.2" width="18.5" height="23.80000000000001" fill="none" stroke="#777" stroke-width="1.3"/>
<ellipse cx="201.5" cy="152.5" rx="2.6" ry="2" fill="#bbb" stroke="none" stroke-width="1" filter="url(#b1)"/>
<path d="M205,151 C206.5,148 209.5,145 212.5,142 C214.5,140 216.5,137.5 218.6,137.2 C220.6,137 221.4,139 220.6,140.6 C219.6,142.4 218.4,143.4 218.6,145.2 C216.4,146.2 214,147.6 212,149 C209.5,150.8 206.6,152.4 205,151 Z" fill="#d8d8d8" stroke="none" stroke-width="1"/>
<path d="M204.8,150.6 C207,147 211,143 214.5,139.5 C216.5,137.5 219.5,136.5 220.6,138.6 C221.4,140.6 219,142.6 218.6,145" fill="none" stroke="#000" stroke-width="2.2" stroke-linecap="round"/>
<path d="M204.8,150.6 C206.5,152.2 209.5,151.2 212,149.2 C214,147.6 216,146.6 218.6,145" fill="none" stroke="#111" stroke-width="1.5"/>
<path d="M218.6,145 C218,148.5 218.5,152.6 221.2,153.3 C223.6,153.9 224.8,151.2 224.3,148.6 C223.9,146.6 222.3,145.8 221,146.6" fill="none" stroke="#000" stroke-width="1.8" stroke-linecap="round"/>
<path d="M208,148.4 C211,145.8 214,143 216.6,140.4" fill="none" stroke="#fff" stroke-width="0.8"/>
<path d="M213.5,146 C216,144.5 218,142 219.4,140" fill="none" stroke="#888" stroke-width="0.6"/>
<ellipse cx="226.5" cy="133.8" rx="1.5" ry="1.2" fill="#bbb" stroke="none" stroke-width="1" filter="url(#b05)"/>
<polygon points="223.8,137.6 232.2,137.6 232.2,159.5 210.7,157.2" fill="none" stroke="#777" stroke-width="1.0"/>
<polygon points="285.5,25.3 303,25.3 307,29.5 313.5,33 316,35 322,33.5 326,35 328,40 328,66.8 285.5,66.8" fill="#8c8c8c" filter="url(#spk)"/>
<polygon points="286,26 302.5,26 306,30 312,34.5 316,36.5 326,36 327.5,42 327.5,66.5 286,66.5" fill="#777" filter="url(#mot)"/>
<ellipse cx="294.5" cy="35" rx="8" ry="6.2" fill="#a8a8a8" stroke="#3a3a3a" stroke-width="0.8"/>
<ellipse cx="295.5" cy="35.5" rx="5.2" ry="3.6" fill="none" stroke="#555" stroke-width="0.6"/>
<ellipse cx="297" cy="36.6" rx="3.4" ry="1.3" fill="#111" stroke="none" stroke-width="1" filter="url(#b05)"/>
<path d="M303,35 C307,34.2 311,35 315,37 C311,39 307,39.5 303,39" fill="#c6c6c6" stroke="#555" stroke-width="0.6"/>
<path d="M290.2,66.5 C289.6,58 289.8,49 291,43.5 C294,42.2 298,42.2 301,43.2 C300.5,52 299.5,60 298.6,66.5 Z" fill="#e8e8e8" stroke="#1a1a1a" stroke-width="0.9"/>
<path d="M304.6,66.5 C304.4,58 305.5,49 308.8,41.6 L310.4,40.4 L312.4,45.6 L314,44 L318.4,39 C319.8,37.6 321.4,37 322.4,38.6 C323.6,48 323.4,58 322.8,66.5 Z" fill="#ececec" stroke="#1a1a1a" stroke-width="0.9"/>
<path d="M308.4,44 L311,47.5 L313.4,47 L316.5,42.8" fill="none" stroke="#333" stroke-width="1.2" filter="url(#b05)"/>
<path d="M323.6,66.5 C324.4,56 324.6,47 324.4,40 C325.6,38.6 327,39 327.6,40.4 L327.6,66.5" fill="#e6e6e6" stroke="#333" stroke-width="0.7"/>
<path d="M293,66 C292.6,58 293,50 294.5,46 C296.5,46 297.5,47 298,48 C297.6,56 297,61 296.6,66" fill="none" stroke="#aaa" stroke-width="0.5"/>
<path d="M307.2,66 C307,58 308,51 309.6,47.5 C311,50 311.4,56 311.2,66 M315.4,66 C315.4,58 316.8,50 319.4,45 C321,48 321.2,57 320.8,66" fill="none" stroke="#aaa" stroke-width="0.5"/>
<path d="M287.2,66.5 V42 M302.6,66.5 V44.5" fill="none" stroke="#111" stroke-width="1.2" filter="url(#b05)"/>
<path d="M286,25.3 H303 L307,29.5 L313.5,33 L316.5,35.5 L322,33.6 L326.5,35.4" fill="none" stroke="#333" stroke-width="0.8"/>
<line x1="286" y1="66.5" x2="327.5" y2="66.5" stroke="#222" stroke-width="1.1"/>
<line x1="285.6" y1="25.5" x2="285.6" y2="66.8" stroke="#444" stroke-width="1.0"/>
<defs><radialGradient id="g12" gradientUnits="userSpaceOnUse" cx="357" cy="52" r="17" gradientTransform="translate(0 52) scale(1 2.0) translate(0 -52)"><stop offset="0" stop-color="#666" stop-opacity="1"/><stop offset="0.6" stop-color="#888" stop-opacity="0.9"/><stop offset="0.85" stop-color="#aaa" stop-opacity="0.7"/><stop offset="1" stop-color="#ddd" stop-opacity="0"/></radialGradient></defs>
<polygon points="343.5,26 352,22.5 358,23.5 364,22 369,26 373,34 374,48 372.5,67 343.5,67" fill="url(#g12)" filter="url(#spk)"/>
<path d="M350,67 L353.5,52 L357.2,34 L359,30.5 L361.4,34.5 L357.8,52 L354.4,67 Z" fill="#f0f0f0" stroke="#666" stroke-width="0.6"/>
<path d="M359,30.5 C362,27 365,27 367,30 C369,34 370,40 370,48" fill="none" stroke="#777" stroke-width="0.6"/>
<path d="M361.6,67 C361.4,56 362.8,47 365.4,40 C367,44 367.6,55 367.4,67 Z" fill="#e8e8e8" stroke="#777" stroke-width="0.6"/>
<polygon points="344.5,52 349,50 352,56 351,67 344.5,67" fill="#555" filter="url(#b1)"/>
<polygon points="363.5,48 368,42 370.5,46 370.5,67 363,67" fill="#4a4a4a" filter="url(#b1)"/>
<path d="M348.4,67 L351.5,57 L355.5,44" fill="none" stroke="#222" stroke-width="1.1" filter="url(#b05)"/>
<path d="M368.8,41 C369.6,50 369.4,58 368.8,67" fill="none" stroke="#111" stroke-width="1.6" filter="url(#b05)"/>
<path d="M359.8,67 V55" fill="none" stroke="#333" stroke-width="1.4" filter="url(#b05)"/>
<path d="M358.5,27 C361,24 364,24 366.2,26 C368.4,28.4 370,31 371,35 M347,40 C349,33 352,29 355,28 M345,67 C345.5,55 347,45 349.5,38" fill="none" stroke="#888" stroke-width="0.55"/>
<line x1="347" y1="66.6" x2="370.5" y2="66.6" stroke="#111" stroke-width="1.4"/>
<rect x="342.9" y="19.7" width="15.600000000000023" height="47.599999999999994" fill="none" stroke="#666" stroke-width="1.2"/>
<polygon points="399,30 403,22.5 409,22.5 414,27 416,40 416.5,67 399,67" fill="#cdcdcd" filter="url(#spk2)"/>
<path d="M399.6,66.8 C399.6,46.01 402.3,29.0 405.6,29.0 C410.66,29.0 414.8,46.01 414.8,66.8" fill="none" stroke="#666" stroke-width="0.7"/>
<path d="M400.8,66.8 C400.8,48.54 403.73400000000004,33.6 407.32000000000005,33.6 C410.90600000000006,33.6 413.84000000000003,48.54 413.84000000000003,66.8" fill="none" stroke="#7a7a7a" stroke-width="0.55"/>
<path d="M401.5,66.8 C401.5,51.29 404.15049999999997,38.6 407.39,38.6 C410.6295,38.6 413.28000000000003,51.29 413.28000000000003,66.8" fill="none" stroke="#7a7a7a" stroke-width="0.55"/>
<path d="M402.20000000000005,66.8 C402.20000000000005,54.26 404.56700000000006,44 407.46000000000004,44 C410.353,44 412.72,54.26 412.72,66.8" fill="none" stroke="#7a7a7a" stroke-width="0.55"/>
<path d="M402.8,66.8 C402.8,57.285 404.924,49.5 407.52,49.5 C410.116,49.5 412.24,57.285 412.24,66.8" fill="none" stroke="#7a7a7a" stroke-width="0.55"/>
<path d="M403.3,66.8 C403.3,60.035 405.22150000000005,54.5 407.57000000000005,54.5 C409.91850000000005,54.5 411.84000000000003,60.035 411.84000000000003,66.8" fill="none" stroke="#7a7a7a" stroke-width="0.55"/>
<path d="M403.8,66.8 C403.8,62.51 405.519,59 407.62,59 C409.721,59 411.44,62.51 411.44,66.8" fill="none" stroke="#7a7a7a" stroke-width="0.55"/>
<path d="M404.20000000000005,66.8 C404.20000000000005,64.435 405.75700000000006,62.5 407.66,62.5 C409.563,62.5 411.12,64.435 411.12,66.8" fill="none" stroke="#7a7a7a" stroke-width="0.55"/>
<path d="M400.5,30 C402,25 404,24 406,25 C408,26 410,24.6 412,26 C413.5,28 414.4,31 414.8,34" fill="none" stroke="#999" stroke-width="0.55"/>
<polygon points="400.5,62.5 410.5,62.5 412.5,66.6 399.8,66.6" fill="#6a6a6a" filter="url(#b1)"/>
<line x1="399.4" y1="66.5" x2="412.5" y2="66.5" stroke="#000" stroke-width="1.5"/>
<line x1="399.0" y1="21.5" x2="399.0" y2="67.2" stroke="#555" stroke-width="1.1"/>
<defs><linearGradient id="g13" gradientUnits="userSpaceOnUse" x1="417" y1="0" x2="428" y2="0"><stop offset="0" stop-color="#bbb" stop-opacity="1"/><stop offset="1" stop-color="#eee" stop-opacity="0"/></linearGradient></defs>
<polygon points="417.5,24 424,26 428,38 427,66 417.5,66" fill="url(#g13)" filter="url(#spk2)"/>
<rect x="416.8" y="21.4" width="18.099999999999966" height="28.200000000000003" fill="none" stroke="#666" stroke-width="1.3"/>
<rect x="416.8" y="52.3" width="18.099999999999966" height="15.0" fill="none" stroke="#666" stroke-width="1.3"/>
<g transform="translate(0 0)">
<path d="M456,29 C460,25.5 466,23.5 472,24.5 C478,23 484,25.5 488,30.5 C491,35 491,41.5 488.5,45.5 C482,48.6 470,48.8 456,47.8 Z" fill="#a0a0a0" stroke="none" stroke-width="1" filter="url(#spk)"/>
<path d="M456,30 C460,26.5 466,25 472,26 C476,27 478,31 478,36 C478,41 477,45 475,47.6 C468,48.4 461,48.2 456,47.6 Z" fill="#666" stroke="none" stroke-width="1" filter="url(#mot)"/>
<ellipse cx="461" cy="36.5" rx="4.2" ry="3.2" fill="none" stroke="#111" stroke-width="1.3"/>
<ellipse cx="468.5" cy="32.5" rx="3.6" ry="2.4" fill="none" stroke="#111" stroke-width="1.1"/>
<ellipse cx="467" cy="41.5" rx="5.2" ry="3.0" fill="none" stroke="#222" stroke-width="1.0"/>
<ellipse cx="473.5" cy="37.5" rx="2.6" ry="2.6" fill="none" stroke="#333" stroke-width="0.9"/>
<ellipse cx="457.8" cy="33.5" rx="2.2" ry="2.8" fill="#000" stroke="none" stroke-width="1"/>
<path d="M457.5,45.8 C459,42 464,40.6 469.5,42.4 C471,44.4 470,46.6 466,47.4 C462,47.9 459,47.6 457.5,45.8 Z" fill="#000" stroke="none" stroke-width="1"/>
<ellipse cx="463.5" cy="44.8" rx="2.6" ry="0.8" fill="#e6e6e6" stroke="none" stroke-width="1"/>
<ellipse cx="481" cy="32.5" rx="3.2" ry="2.4" fill="none" stroke="#666" stroke-width="0.8"/>
<ellipse cx="484.5" cy="39.5" rx="3.0" ry="3.2" fill="none" stroke="#777" stroke-width="0.8"/>
<ellipse cx="479.5" cy="44" rx="3.2" ry="2.0" fill="none" stroke="#666" stroke-width="0.8"/>
<path d="M476,28 C479,26.5 482,27.5 483,29.5 M486,34 C488,36 488.6,39 487.6,42" fill="none" stroke="#777" stroke-width="0.6"/>
<path d="M456.5,47.4 C464,48.8 474,48.8 482,47.4 C485,46.8 487.5,46 488.5,45" fill="none" stroke="#000" stroke-width="1.5"/>
</g>
<ellipse cx="480.5" cy="25.5" rx="2.2" ry="1.6" fill="none" stroke="#666" stroke-width="0.6"/>
<rect x="474.8" y="18.2" width="21.5" height="32.8" fill="none" stroke="#666" stroke-width="1.1"/>
<polygon points="285.5,79.5 302.6,79.5 310,84 316,87.5 325,91 328,95 328,122 285.5,122" fill="#989898" filter="url(#spk)"/>
<polygon points="286,80 302.5,80 304,84 312,88 322,93 327.4,96 327.4,121.6 286,121.6" fill="#777" filter="url(#mot)"/>
<ellipse cx="296.1" cy="88.9" rx="7.9" ry="5.1" fill="#d4d4d4" stroke="#111" stroke-width="1.3"/>
<path d="M303.8,86 C308.5,86.6 312.5,87.8 315.6,89.8 C312.5,91.6 308.5,92.2 303.8,92" fill="#dedede" stroke="#333" stroke-width="0.8"/>
<ellipse cx="297.6" cy="89.2" rx="4.4" ry="2.6" fill="#eee" stroke="#222" stroke-width="0.9"/>
<ellipse cx="298" cy="89.4" rx="1.8" ry="0.9" fill="none" stroke="#555" stroke-width="0.6"/>
<path d="M286.4,121.4 V96.5 C286.4,94.8 288,94.6 290,94.6 H323.5 C326.6,94.6 327.4,96.4 327.4,98.5 V121.4 Z" fill="none" stroke="#333" stroke-width="0.9"/>
<ellipse cx="295.2" cy="108.8" rx="5.8" ry="12.0" fill="#eaeaea" stroke="#111" stroke-width="1.2" transform="rotate(12 295.2 108.8)"/>
<ellipse cx="295.4" cy="109.2" rx="3.6" ry="8.6" fill="none" stroke="#666" stroke-width="0.7" transform="rotate(12 295.4 109.2)"/>
<ellipse cx="295.6" cy="109.6" rx="1.6" ry="5.0" fill="none" stroke="#888" stroke-width="0.6" transform="rotate(12 295.6 109.6)"/>
<path d="M303.2,120.6 C302.6,112 304.6,104 307.4,99.4 L311.7,98.6 L315.5,101 L319.5,95.9 C322.6,104 323.2,113 322.4,120.6 Z" fill="#eeeeee" stroke="#111" stroke-width="0.9"/>
<path d="M305.6,120 C305.4,114 306.4,108 308.4,105 C310,108 310.6,114 310.4,120 Z M313.4,120 C313.2,112 314.8,105 317,102 C319,106 319.8,113 319.4,120 Z" fill="#e2e2e2" stroke="#444" stroke-width="0.7"/>
<path d="M285.7,79.6 H302.6 V93" fill="none" stroke="#666" stroke-width="0.8"/>
<line x1="285.6" y1="79.6" x2="285.6" y2="122" stroke="#444" stroke-width="1.0"/>
<defs><radialGradient id="g14" gradientUnits="userSpaceOnUse" cx="359" cy="104" r="17" gradientTransform="translate(0 104) scale(1 1.7647058823529411) translate(0 -104)"><stop offset="0" stop-color="#666" stop-opacity="1"/><stop offset="0.6" stop-color="#888" stop-opacity="0.9"/><stop offset="0.85" stop-color="#aaa" stop-opacity="0.7"/><stop offset="1" stop-color="#ddd" stop-opacity="0"/></radialGradient></defs>
<polygon points="343.5,80 350,77 358,78.5 364,77 370,80 375,92 375.5,122 343.5,122" fill="url(#g14)" filter="url(#spk)"/>
<path d="M346,122 C349,108 352,96 356,85.2 L364.8,90.6 L369.2,85.9 C371,98 372,110 372.4,122 Z" fill="#ededed" stroke="#777" stroke-width="0.6"/>
<path d="M350,122 C352.5,110 355,100 357,93 L364.5,98 L368,93 C369.4,103 370,112 370,122" fill="none" stroke="#999" stroke-width="0.55"/>
<polygon points="344.5,104 349,102 352,110 351,122 344.5,122" fill="#555" filter="url(#b1)"/>
<polygon points="368,100 370.5,95 373.5,99 374,122 367.5,122" fill="#4a4a4a" filter="url(#b1)"/>
<path d="M359.7,122 V105 M366.8,122 V100 M371.2,122 V95" fill="none" stroke="#222" stroke-width="1.3" filter="url(#b05)"/>
<path d="M346.6,121.6 L350.5,109" fill="none" stroke="#222" stroke-width="1.3" filter="url(#b05)"/>
<line x1="344" y1="121.5" x2="373" y2="121.5" stroke="#000" stroke-width="1.3"/>
<rect x="343" y="73.8" width="15" height="48.2" fill="none" stroke="#666" stroke-width="1.2"/>
<polygon points="399,86 403,79.5 409,79.5 414,84 416,95 416.5,122 399,122" fill="#cdcdcd" filter="url(#spk2)"/>
<path d="M399.6,121.8 C399.6,101.835 402.3,85.5 405.6,85.5 C410.66,85.5 414.8,101.835 414.8,121.8" fill="none" stroke="#666" stroke-width="0.7"/>
<path d="M400.8,121.8 C400.8,104.585 403.73400000000004,90.5 407.32000000000005,90.5 C410.90600000000006,90.5 413.84000000000003,104.585 413.84000000000003,121.8" fill="none" stroke="#7a7a7a" stroke-width="0.55"/>
<path d="M401.5,121.8 C401.5,107.335 404.15049999999997,95.5 407.39,95.5 C410.6295,95.5 413.28000000000003,107.335 413.28000000000003,121.8" fill="none" stroke="#7a7a7a" stroke-width="0.55"/>
<path d="M402.20000000000005,121.8 C402.20000000000005,110.085 404.56700000000006,100.5 407.46000000000004,100.5 C410.353,100.5 412.72,110.085 412.72,121.8" fill="none" stroke="#7a7a7a" stroke-width="0.55"/>
<path d="M402.8,121.8 C402.8,112.835 404.924,105.5 407.52,105.5 C410.116,105.5 412.24,112.835 412.24,121.8" fill="none" stroke="#7a7a7a" stroke-width="0.55"/>
<path d="M403.3,121.8 C403.3,115.31 405.22150000000005,110 407.57000000000005,110 C409.91850000000005,110 411.84000000000003,115.31 411.84000000000003,121.8" fill="none" stroke="#7a7a7a" stroke-width="0.55"/>
<path d="M403.8,121.8 C403.8,117.50999999999999 405.519,114 407.62,114 C409.721,114 411.44,117.50999999999999 411.44,121.8" fill="none" stroke="#7a7a7a" stroke-width="0.55"/>
<path d="M404.20000000000005,121.8 C404.20000000000005,119.435 405.75700000000006,117.5 407.66,117.5 C409.563,117.5 411.12,119.435 411.12,121.8" fill="none" stroke="#7a7a7a" stroke-width="0.55"/>
<path d="M400.5,86 C402,81 404,80 406,81 C408,82 410,80.6 412,82 C413.5,84 414.4,87 414.8,90" fill="none" stroke="#999" stroke-width="0.55"/>
<polygon points="400.5,117.5 410.5,117.5 412.5,121.6 399.8,121.6" fill="#6a6a6a" filter="url(#b1)"/>
<line x1="399.4" y1="121.5" x2="412.5" y2="121.5" stroke="#000" stroke-width="1.5"/>
<line x1="399.0" y1="75.5" x2="399.0" y2="122.2" stroke="#555" stroke-width="1.1"/>
<defs><linearGradient id="g15" gradientUnits="userSpaceOnUse" x1="417" y1="0" x2="428" y2="0"><stop offset="0" stop-color="#bbb" stop-opacity="1"/><stop offset="1" stop-color="#eee" stop-opacity="0"/></linearGradient></defs>
<polygon points="417.5,78 424,80 428,92 427,121 417.5,121" fill="url(#g15)" filter="url(#spk2)"/>
<rect x="416.8" y="75.2" width="17.80000000000001" height="28.799999999999997" fill="none" stroke="#666" stroke-width="1.3"/>
<rect x="416.8" y="106.6" width="17.80000000000001" height="15.600000000000009" fill="none" stroke="#666" stroke-width="1.3"/>
<g transform="translate(0 55.5)">
<path d="M456,29 C460,25.5 466,23.5 472,24.5 C478,23 484,25.5 488,30.5 C491,35 491,41.5 488.5,45.5 C482,48.6 470,48.8 456,47.8 Z" fill="#a0a0a0" stroke="none" stroke-width="1" filter="url(#spk)"/>
<path d="M456,30 C460,26.5 466,25 472,26 C476,27 478,31 478,36 C478,41 477,45 475,47.6 C468,48.4 461,48.2 456,47.6 Z" fill="#666" stroke="none" stroke-width="1" filter="url(#mot)"/>
<ellipse cx="461" cy="36.5" rx="4.2" ry="3.2" fill="none" stroke="#111" stroke-width="1.3"/>
<ellipse cx="468.5" cy="32.5" rx="3.6" ry="2.4" fill="none" stroke="#111" stroke-width="1.1"/>
<ellipse cx="467" cy="41.5" rx="5.2" ry="3.0" fill="none" stroke="#222" stroke-width="1.0"/>
<ellipse cx="473.5" cy="37.5" rx="2.6" ry="2.6" fill="none" stroke="#333" stroke-width="0.9"/>
<ellipse cx="457.8" cy="34.5" rx="2.2" ry="2.8" fill="#000" stroke="none" stroke-width="1"/>
<path d="M457.5,45.8 C459,42 464,40.6 469.5,42.4 C471,44.4 470,46.6 466,47.4 C462,47.9 459,47.6 457.5,45.8 Z" fill="#000" stroke="none" stroke-width="1"/>
<ellipse cx="463.5" cy="44.8" rx="2.6" ry="0.8" fill="#e6e6e6" stroke="none" stroke-width="1"/>
<ellipse cx="481" cy="32.5" rx="3.2" ry="2.4" fill="none" stroke="#666" stroke-width="0.8"/>
<ellipse cx="484.5" cy="39.5" rx="3.0" ry="3.2" fill="none" stroke="#777" stroke-width="0.8"/>
<ellipse cx="479.5" cy="44" rx="3.2" ry="2.0" fill="none" stroke="#666" stroke-width="0.8"/>
<path d="M476,28 C479,26.5 482,27.5 483,29.5 M486,34 C488,36 488.6,39 487.6,42" fill="none" stroke="#777" stroke-width="0.6"/>
<path d="M456.5,47.4 C464,48.8 474,48.8 482,47.4 C485,46.8 487.5,46 488.5,45" fill="none" stroke="#000" stroke-width="1.5"/>
</g>
<ellipse cx="481" cy="80" rx="2.5" ry="1.8" fill="none" stroke="#666" stroke-width="0.6"/>
<rect x="475" y="72.4" width="21.399999999999977" height="32.69999999999999" fill="none" stroke="#666" stroke-width="1.1"/>
<polygon points="285.5,134.6 302.6,134.6 310,140 317,144.5 326,147 328,151 328,177.8 285.5,177.8" fill="#c8c8c8" filter="url(#spk)"/>
<ellipse cx="295.6" cy="144.6" rx="6.4" ry="4.8" fill="#000" stroke="none" stroke-width="1" transform="rotate(-8 295.6 144.6)" filter="url(#b05)"/>
<ellipse cx="296.6" cy="145" rx="3.4" ry="1.2" fill="#d8d8d8" stroke="none" stroke-width="1"/>
<path d="M301.5,142.2 C307,142 312.5,142.6 316.2,144.6 C312.5,146.8 307,147.4 301.5,147" fill="#bdbdbd" stroke="none" stroke-width="1" filter="url(#b05)"/>
<ellipse cx="294.6" cy="164.4" rx="5.4" ry="11.2" fill="#d8d8d8" stroke="#333" stroke-width="0.9" transform="rotate(20 294.6 164.4)"/>
<path d="M290.6,172 C289.4,166 291,158 294.6,154.6" fill="none" stroke="#000" stroke-width="2.0" filter="url(#b05)"/>
<ellipse cx="294.8" cy="164.4" rx="3.2" ry="8.2" fill="none" stroke="#444" stroke-width="0.8" transform="rotate(20 294.8 164.4)"/>
<ellipse cx="295" cy="164.4" rx="1.2" ry="5" fill="none" stroke="#777" stroke-width="0.6" transform="rotate(20 295 164.4)"/>
<path d="M303,175.6 V153 C303,150.4 305,149.2 308,149.2 H325 C327.4,149.2 327.8,151 327.8,153 V175.6 Z" fill="#e2e2e2" stroke="#444" stroke-width="0.9"/>
<path d="M306,175 C305,166 308,158 312,155 L315.6,158 L320,153.6 C324.6,160 325.6,168 325,175" fill="none" stroke="#555" stroke-width="0.7"/>
<path d="M307.6,174 C307.4,169 308.4,165.6 310,164.4 C311.8,166 312.4,170 312.2,174 Z M314.6,172 C314.4,166 315.6,162 317.4,160.6 C319.2,163 319.8,167 319.4,172 Z" fill="#c4c4c4" stroke="#444" stroke-width="0.7"/>
<rect x="285.5" y="134.4" width="17.399999999999977" height="17.799999999999983" fill="none" stroke="#666" stroke-width="1.0"/>
<line x1="285.6" y1="134.6" x2="285.6" y2="178" stroke="#555" stroke-width="1.0"/>
<defs><radialGradient id="g16" gradientUnits="userSpaceOnUse" cx="361" cy="158" r="18" gradientTransform="translate(0 158) scale(1 1.6666666666666667) translate(0 -158)"><stop offset="0" stop-color="#777" stop-opacity="1"/><stop offset="0.6" stop-color="#999" stop-opacity="0.9"/><stop offset="0.85" stop-color="#bbb" stop-opacity="0.7"/><stop offset="1" stop-color="#ddd" stop-opacity="0"/></radialGradient></defs>
<polygon points="343.5,134 350,131.5 358,133 364,134 372,134 379,142 380,160 379.5,178 343.5,178" fill="url(#g16)" filter="url(#spk)"/>
<path d="M347,178 C350,162 353,146 357.5,136.5 C360,140 362,146 365,150 C368,145 371,140 373.5,139 C376,150 377.6,164 378,178 Z" fill="#ebebeb" stroke="#777" stroke-width="0.6"/>
<path d="M351,178 C353,165 355.5,152 358,145 C360.5,149 362.5,154 365,157 C368,153 370.5,149 373,147 M355,178 C356.5,168 358,160 359,155" fill="none" stroke="#999" stroke-width="0.55"/>
<path d="M369.2,176 C368.4,166 369.6,156 372.4,150 C375.6,156 377,166 376.4,176 Z" fill="#262626" stroke="none" stroke-width="1" filter="url(#b05)"/>
<path d="M371.6,172 C371.4,165 372,160 373,157.5 C374,160 374.4,166 374,172" fill="none" stroke="#aaa" stroke-width="0.6"/>
<polygon points="344.5,160 350,158 354,166 353,178 344.5,178" fill="#5a5a5a" filter="url(#b1)"/>
<path d="M348.6,177.6 L353.4,163 M359.6,178 V166" fill="none" stroke="#1a1a1a" stroke-width="1.6" filter="url(#b05)"/>
<path d="M362,178 L364.5,168 L367,178" fill="#fafafa" stroke="none" stroke-width="1"/>
<line x1="344" y1="177.6" x2="378" y2="177.6" stroke="#000" stroke-width="1.2"/>
<rect x="343" y="129.4" width="15.5" height="48.400000000000006" fill="none" stroke="#666" stroke-width="1.2"/>
<polygon points="399,140 404,135.5 410,136.5 414,141 416.5,150 416.5,178 399,178" fill="#cdcdcd" filter="url(#spk2)"/>
<path d="M399.6,177.8 C399.6,157.285 402.39000000000004,140.5 405.8,140.5 C410.75,140.5 414.8,157.285 414.8,177.8" fill="none" stroke="#666" stroke-width="0.7"/>
<path d="M400.8,177.8 C400.8,160.31 403.73400000000004,146 407.32000000000005,146 C410.90600000000006,146 413.84000000000003,160.31 413.84000000000003,177.8" fill="none" stroke="#6e6e6e" stroke-width="0.6"/>
<path d="M401.5,177.8 C401.5,163.335 404.15049999999997,151.5 407.39,151.5 C410.6295,151.5 413.28000000000003,163.335 413.28000000000003,177.8" fill="none" stroke="#6e6e6e" stroke-width="0.6"/>
<path d="M402.20000000000005,177.8 C402.20000000000005,166.36 404.56700000000006,157 407.46000000000004,157 C410.353,157 412.72,166.36 412.72,177.8" fill="none" stroke="#6e6e6e" stroke-width="0.6"/>
<path d="M402.8,177.8 C402.8,169.11 404.924,162 407.52,162 C410.116,162 412.24,169.11 412.24,177.8" fill="none" stroke="#6e6e6e" stroke-width="0.6"/>
<path d="M403.3,177.8 C403.3,171.585 405.22150000000005,166.5 407.57000000000005,166.5 C409.91850000000005,166.5 411.84000000000003,171.585 411.84000000000003,177.8" fill="none" stroke="#6e6e6e" stroke-width="0.6"/>
<path d="M403.8,177.8 C403.8,173.785 405.519,170.5 407.62,170.5 C409.721,170.5 411.44,173.785 411.44,177.8" fill="none" stroke="#6e6e6e" stroke-width="0.6"/>
<polygon points="399.8,163 407,163 411.5,170 412.5,177.6 399.8,177.6" fill="#6e6e6e" filter="url(#b1)"/>
<line x1="399.5" y1="177.6" x2="412" y2="177.6" stroke="#000" stroke-width="1.4"/>
<line x1="399.0" y1="130.5" x2="399.0" y2="178.0" stroke="#555" stroke-width="1.1"/>
<path d="M418,167 C420,164 423,164 424,166 M418,171 C419,174 421,176 422,178" fill="none" stroke="#999" stroke-width="0.6"/>
<defs><linearGradient id="g17" gradientUnits="userSpaceOnUse" x1="417" y1="0" x2="428" y2="0"><stop offset="0" stop-color="#c4c4c4" stop-opacity="1"/><stop offset="1" stop-color="#eee" stop-opacity="0"/></linearGradient></defs>
<polygon points="417.5,134 424,136 428,148 427,177 417.5,177" fill="url(#g17)" filter="url(#spk2)"/>
<rect x="416.8" y="130.3" width="17.80000000000001" height="28.899999999999977" fill="none" stroke="#666" stroke-width="1.3"/>
<rect x="416.8" y="161.5" width="17.80000000000001" height="16.5" fill="none" stroke="#666" stroke-width="1.3"/>
<g transform="translate(0 111)">
<path d="M456,29 C460,25.5 466,23.5 472,24.5 C478,23 484,25.5 488,30.5 C491,35 491,41.5 488.5,45.5 C482,48.6 470,48.8 456,47.8 Z" fill="#a0a0a0" stroke="none" stroke-width="1" filter="url(#spk)"/>
<path d="M456,30 C460,26.5 466,25 472,26 C476,27 478,31 478,36 C478,41 477,45 475,47.6 C468,48.4 461,48.2 456,47.6 Z" fill="#666" stroke="none" stroke-width="1" filter="url(#mot)"/>
<ellipse cx="461" cy="36.5" rx="4.2" ry="3.2" fill="none" stroke="#111" stroke-width="1.3"/>
<ellipse cx="468.5" cy="32.5" rx="3.6" ry="2.4" fill="none" stroke="#111" stroke-width="1.1"/>
<ellipse cx="467" cy="41.5" rx="5.2" ry="3.0" fill="none" stroke="#222" stroke-width="1.0"/>
<ellipse cx="473.5" cy="37.5" rx="2.6" ry="2.6" fill="none" stroke="#333" stroke-width="0.9"/>
<ellipse cx="457.8" cy="33.5" rx="2.2" ry="2.8" fill="#000" stroke="none" stroke-width="1"/>
<path d="M457.5,45.8 C459,42 464,40.6 469.5,42.4 C471,44.4 470,46.6 466,47.4 C462,47.9 459,47.6 457.5,45.8 Z" fill="#000" stroke="none" stroke-width="1"/>
<ellipse cx="463.5" cy="44.8" rx="2.6" ry="0.8" fill="#e6e6e6" stroke="none" stroke-width="1"/>
<ellipse cx="481" cy="32.5" rx="3.2" ry="2.4" fill="none" stroke="#666" stroke-width="0.8"/>
<ellipse cx="484.5" cy="39.5" rx="3.0" ry="3.2" fill="none" stroke="#777" stroke-width="0.8"/>
<ellipse cx="479.5" cy="44" rx="3.2" ry="2.0" fill="none" stroke="#666" stroke-width="0.8"/>
<path d="M476,28 C479,26.5 482,27.5 483,29.5 M486,34 C488,36 488.6,39 487.6,42" fill="none" stroke="#777" stroke-width="0.6"/>
<path d="M456.5,47.4 C464,48.8 474,48.8 482,47.4 C485,46.8 487.5,46 488.5,45" fill="none" stroke="#000" stroke-width="1.5"/>
</g>
<path d="M457,157.8 C466,159.8 478,159.6 489,155.5" fill="none" stroke="#000" stroke-width="2.0"/>
<ellipse cx="483" cy="133" rx="2.5" ry="1.8" fill="none" stroke="#666" stroke-width="0.7"/>
<rect x="475" y="127.5" width="21.399999999999977" height="32.80000000000001" fill="none" stroke="#666" stroke-width="1.1"/>
<text x="0.3" y="232.0" font-size="13.6" text-anchor="start" font-weight="bold" fill="#000" color="#000">B</text>
<line x1="40.6" y1="271.5" x2="40.6" y2="405.4" stroke="#8c8c8c" stroke-width="1"/>
<line x1="37.800000000000004" y1="382.0" x2="40.6" y2="382.0" stroke="#8c8c8c" stroke-width="1"/>
<g transform="translate(31.2 387.6) scale(0.82 1)"><text x="0" y="0" font-size="10.8" text-anchor="end" fill="#1a1a1a" color="#1a1a1a">0</text></g>
<line x1="37.800000000000004" y1="360.0" x2="40.6" y2="360.0" stroke="#8c8c8c" stroke-width="1"/>
<g transform="translate(31.2 365.6) scale(0.82 1)"><text x="0" y="0" font-size="10.8" text-anchor="end" fill="#1a1a1a" color="#1a1a1a">20</text></g>
<line x1="37.800000000000004" y1="338.0" x2="40.6" y2="338.0" stroke="#8c8c8c" stroke-width="1"/>
<g transform="translate(31.2 343.6) scale(0.82 1)"><text x="0" y="0" font-size="10.8" text-anchor="end" fill="#1a1a1a" color="#1a1a1a">40</text></g>
<line x1="37.800000000000004" y1="316.0" x2="40.6" y2="316.0" stroke="#8c8c8c" stroke-width="1"/>
<g transform="translate(31.2 321.6) scale(0.82 1)"><text x="0" y="0" font-size="10.8" text-anchor="end" fill="#1a1a1a" color="#1a1a1a">60</text></g>
<line x1="37.800000000000004" y1="294.0" x2="40.6" y2="294.0" stroke="#8c8c8c" stroke-width="1"/>
<g transform="translate(31.2 299.6) scale(0.82 1)"><text x="0" y="0" font-size="10.8" text-anchor="end" fill="#1a1a1a" color="#1a1a1a">80</text></g>
<line x1="37.800000000000004" y1="272.0" x2="40.6" y2="272.0" stroke="#8c8c8c" stroke-width="1"/>
<g transform="translate(31.2 277.6) scale(0.82 1)"><text x="0" y="0" font-size="10.8" text-anchor="end" fill="#1a1a1a" color="#1a1a1a">100</text></g>
<line x1="40.6" y1="382.0" x2="206.5" y2="382.0" stroke="#8c8c8c" stroke-width="1"/>
<line x1="68.5" y1="382.0" x2="68.5" y2="405.4" stroke="#8c8c8c" stroke-width="1"/>
<line x1="96.3" y1="382.0" x2="96.3" y2="405.4" stroke="#8c8c8c" stroke-width="1"/>
<line x1="124.2" y1="382.0" x2="124.2" y2="405.4" stroke="#8c8c8c" stroke-width="1"/>
<line x1="151.75" y1="382.0" x2="151.75" y2="405.4" stroke="#8c8c8c" stroke-width="1"/>
<line x1="179.25" y1="382.0" x2="179.25" y2="405.4" stroke="#8c8c8c" stroke-width="1"/>
<line x1="206.25" y1="382.0" x2="206.25" y2="405.4" stroke="#8c8c8c" stroke-width="1"/>
<path d="M54.625,346.75 V332.5 M52.125,332.5 H57.125" fill="none" stroke="#333" stroke-width="1.25"/>
<rect x="45.5" y="346.75" width="18.25" height="35.25" fill="#000" stroke="none" stroke-width="1"/>
<text x="52.725" y="392.4" font-size="8.2" text-anchor="middle" font-weight="normal" fill="#1a1a1a" color="#1a1a1a">Dia</text>
<path d="M82.25,334.25 V317.5 M79.75,317.5 H84.75" fill="none" stroke="#333" stroke-width="1.25"/>
<rect x="73.25" y="334.25" width="18.0" height="47.75" fill="#000" stroke="none" stroke-width="1"/>
<text x="80.35" y="392.4" font-size="8.2" text-anchor="middle" font-weight="normal" fill="#1a1a1a" color="#1a1a1a">Epi</text>
<path d="M110.25,333 V316.25 M107.75,316.25 H112.75" fill="none" stroke="#333" stroke-width="1.25"/>
<rect x="101.25" y="333" width="18.0" height="49.0" fill="#000" stroke="none" stroke-width="1"/>
<text x="108.35" y="392.4" font-size="8.2" text-anchor="middle" font-weight="normal" fill="#1a1a1a" color="#1a1a1a">Cal</text>
<path d="M137.375,329.5 V308 M134.875,308 H139.875" fill="none" stroke="#333" stroke-width="1.25"/>
<rect x="128" y="329.5" width="18.75" height="52.5" fill="#000" stroke="none" stroke-width="1"/>
<text x="135.475" y="392.4" font-size="8.2" text-anchor="middle" font-weight="normal" fill="#1a1a1a" color="#1a1a1a">Dia</text>
<path d="M164.875,322.5 V297 M162.375,297 H167.375" fill="none" stroke="#333" stroke-width="1.25"/>
<rect x="155.5" y="322.5" width="18.75" height="59.5" fill="#000" stroke="none" stroke-width="1"/>
<text x="162.975" y="392.4" font-size="8.2" text-anchor="middle" font-weight="normal" fill="#1a1a1a" color="#1a1a1a">Epi</text>
<path d="M192.375,333.25 V309.25 M189.875,309.25 H194.875" fill="none" stroke="#333" stroke-width="1.25"/>
<rect x="183" y="333.25" width="18.75" height="48.75" fill="#000" stroke="none" stroke-width="1"/>
<text x="190.475" y="392.4" font-size="8.2" text-anchor="middle" font-weight="normal" fill="#1a1a1a" color="#1a1a1a">Cal</text>
<text x="78.2" y="416.2" font-size="8.6" text-anchor="middle" font-weight="normal" fill="#222" color="#222">Day 9</text>
<text x="160.2" y="415.4" font-size="8.6" text-anchor="middle" font-weight="normal" fill="#222" color="#222">day 21</text>
<path d="M56,288.5 V285.0 H104.5 V288.5" fill="none" stroke="#333" stroke-width="1.1"/>
<text x="80.5" y="287.69" font-size="13.5" text-anchor="middle" font-weight="normal" fill="#333" color="#333" style="stroke-width:0.35px">*</text>
<path d="M56,309.9 V306.4 H80.5 V309.9" fill="none" stroke="#333" stroke-width="1.1"/>
<text x="69.3" y="309.89000000000004" font-size="13.5" text-anchor="middle" font-weight="normal" fill="#333" color="#333" style="stroke-width:0.35px">**</text>
<text x="9.6" y="333.3" font-size="11.2" text-anchor="middle" font-weight="normal" fill="#222" color="#222" transform="rotate(-90 9.6 333.3)">Chimerism (%)</text>
<text x="220.2" y="230.4" font-size="13.6" text-anchor="start" font-weight="bold" fill="#000" color="#000">C</text>
<line x1="263.8" y1="224.2" x2="263.8" y2="408.6" stroke="#8c8c8c" stroke-width="1"/>
<line x1="261.0" y1="224.2" x2="263.8" y2="224.2" stroke="#8c8c8c" stroke-width="1"/>
<text x="258.2" y="226.79999999999998" font-size="7.4" text-anchor="end" font-weight="normal" fill="#222" color="#222">1</text>
<line x1="261.0" y1="276.9" x2="263.8" y2="276.9" stroke="#8c8c8c" stroke-width="1"/>
<text x="258.2" y="279.5" font-size="7.4" text-anchor="end" font-weight="normal" fill="#222" color="#222">0.1</text>
<line x1="261.0" y1="329.6" x2="263.8" y2="329.6" stroke="#8c8c8c" stroke-width="1"/>
<text x="258.2" y="332.20000000000005" font-size="7.4" text-anchor="end" font-weight="normal" fill="#222" color="#222">0.01</text>
<line x1="261.0" y1="382.0" x2="263.8" y2="382.0" stroke="#8c8c8c" stroke-width="1"/>
<text x="258.2" y="384.6" font-size="7.4" text-anchor="end" font-weight="normal" fill="#222" color="#222">0.001</text>
<line x1="263.8" y1="382.0" x2="518.2" y2="382.0" stroke="#8c8c8c" stroke-width="1"/>
<path d="M274.8,292.4 V277.8 M272.8,277.8 H276.8" fill="none" stroke="#333" stroke-width="1.25"/>
<rect x="266.6" y="292.4" width="16.399999999999977" height="89.60000000000002" fill="#000" stroke="none" stroke-width="1"/>
<text x="274.6" y="393.3" font-size="7.8" text-anchor="middle" font-weight="normal" fill="#1a1a1a" color="#1a1a1a">Dia</text>
<line x1="285.0" y1="382.0" x2="285.0" y2="395" stroke="#8c8c8c" stroke-width="1"/>
<path d="M296.0,283.8 V270.9 M294.0,270.9 H298.0" fill="none" stroke="#333" stroke-width="1.25"/>
<rect x="287.8" y="283.8" width="16.399999999999977" height="98.19999999999999" fill="#000" stroke="none" stroke-width="1"/>
<text x="295.8" y="393.3" font-size="7.8" text-anchor="middle" font-weight="normal" fill="#1a1a1a" color="#1a1a1a">Epi</text>
<line x1="306.2" y1="382.0" x2="306.2" y2="395" stroke="#8c8c8c" stroke-width="1"/>
<path d="M317.2,272.7 V254.7 M315.2,254.7 H319.2" fill="none" stroke="#333" stroke-width="1.25"/>
<rect x="309.0" y="272.7" width="16.399999999999977" height="109.30000000000001" fill="#000" stroke="none" stroke-width="1"/>
<text x="317.0" y="393.3" font-size="7.8" text-anchor="middle" font-weight="normal" fill="#1a1a1a" color="#1a1a1a">Cal</text>
<line x1="327.4" y1="382.0" x2="327.4" y2="408.6" stroke="#8c8c8c" stroke-width="1"/>
<path d="M338.4,337.2 V324.3 M336.4,324.3 H340.4" fill="none" stroke="#333" stroke-width="1.25"/>
<rect x="330.2" y="337.2" width="16.399999999999977" height="44.80000000000001" fill="#000" stroke="none" stroke-width="1"/>
<text x="338.2" y="393.3" font-size="7.8" text-anchor="middle" font-weight="normal" fill="#1a1a1a" color="#1a1a1a">Dia</text>
<line x1="348.59999999999997" y1="382.0" x2="348.59999999999997" y2="395" stroke="#8c8c8c" stroke-width="1"/>
<path d="M359.6,327.2 V314.2 M357.6,314.2 H361.6" fill="none" stroke="#333" stroke-width="1.25"/>
<rect x="351.40000000000003" y="327.2" width="16.399999999999977" height="54.80000000000001" fill="#000" stroke="none" stroke-width="1"/>
<text x="359.40000000000003" y="393.3" font-size="7.8" text-anchor="middle" font-weight="normal" fill="#1a1a1a" color="#1a1a1a">Epi</text>
<line x1="369.8" y1="382.0" x2="369.8" y2="395" stroke="#8c8c8c" stroke-width="1"/>
<path d="M380.8,310.8 V298.2 M378.8,298.2 H382.8" fill="none" stroke="#333" stroke-width="1.25"/>
<rect x="372.6" y="310.8" width="16.399999999999977" height="71.19999999999999" fill="#000" stroke="none" stroke-width="1"/>
<text x="380.6" y="393.3" font-size="7.8" text-anchor="middle" font-weight="normal" fill="#1a1a1a" color="#1a1a1a">Cal</text>
<line x1="391.0" y1="382.0" x2="391.0" y2="408.6" stroke="#8c8c8c" stroke-width="1"/>
<path d="M402.0,281.5 V271 M400.0,271 H404.0" fill="none" stroke="#333" stroke-width="1.25"/>
<rect x="393.8" y="281.5" width="16.399999999999977" height="100.5" fill="#000" stroke="none" stroke-width="1"/>
<text x="401.8" y="393.3" font-size="7.8" text-anchor="middle" font-weight="normal" fill="#1a1a1a" color="#1a1a1a">Dia</text>
<line x1="412.2" y1="382.0" x2="412.2" y2="395" stroke="#8c8c8c" stroke-width="1"/>
<path d="M423.20000000000005,278 V267 M421.20000000000005,267 H425.20000000000005" fill="none" stroke="#333" stroke-width="1.25"/>
<rect x="415.00000000000006" y="278" width="16.399999999999977" height="104.0" fill="#000" stroke="none" stroke-width="1"/>
<text x="423.00000000000006" y="393.3" font-size="7.8" text-anchor="middle" font-weight="normal" fill="#1a1a1a" color="#1a1a1a">Epi</text>
<line x1="433.40000000000003" y1="382.0" x2="433.40000000000003" y2="395" stroke="#8c8c8c" stroke-width="1"/>
<path d="M444.4,274 V258.8 M442.4,258.8 H446.4" fill="none" stroke="#333" stroke-width="1.25"/>
<rect x="436.2" y="274" width="16.399999999999977" height="108.0" fill="#000" stroke="none" stroke-width="1"/>
<text x="444.2" y="393.3" font-size="7.8" text-anchor="middle" font-weight="normal" fill="#1a1a1a" color="#1a1a1a">Cal</text>
<line x1="454.59999999999997" y1="382.0" x2="454.59999999999997" y2="408.6" stroke="#8c8c8c" stroke-width="1"/>
<path d="M465.6,307.5 V297.7 M463.6,297.7 H467.6" fill="none" stroke="#333" stroke-width="1.25"/>
<rect x="457.40000000000003" y="307.5" width="16.399999999999977" height="74.5" fill="#000" stroke="none" stroke-width="1"/>
<text x="465.40000000000003" y="393.3" font-size="7.8" text-anchor="middle" font-weight="normal" fill="#1a1a1a" color="#1a1a1a">Dia</text>
<line x1="475.8" y1="382.0" x2="475.8" y2="395" stroke="#8c8c8c" stroke-width="1"/>
<path d="M486.8,303.8 V291.3 M484.8,291.3 H488.8" fill="none" stroke="#333" stroke-width="1.25"/>
<rect x="478.6" y="303.8" width="16.399999999999977" height="78.19999999999999" fill="#000" stroke="none" stroke-width="1"/>
<text x="486.6" y="393.3" font-size="7.8" text-anchor="middle" font-weight="normal" fill="#1a1a1a" color="#1a1a1a">Epi</text>
<line x1="497.0" y1="382.0" x2="497.0" y2="395" stroke="#8c8c8c" stroke-width="1"/>
<path d="M508.0,299 V283.3 M506.0,283.3 H510.0" fill="none" stroke="#333" stroke-width="1.25"/>
<rect x="499.8" y="299" width="16.400000000000034" height="83.0" fill="#000" stroke="none" stroke-width="1"/>
<text x="507.8" y="393.3" font-size="7.8" text-anchor="middle" font-weight="normal" fill="#1a1a1a" color="#1a1a1a">Cal</text>
<line x1="518.2" y1="382.0" x2="518.2" y2="408.6" stroke="#8c8c8c" stroke-width="1"/>
<text x="295.90000000000003" y="407.3" font-size="7.8" text-anchor="middle" font-weight="normal" fill="#1a1a1a" color="#1a1a1a">LSK</text>
<text x="359.5" y="407.3" font-size="7.8" text-anchor="middle" font-weight="normal" fill="#1a1a1a" color="#1a1a1a">LSK150</text>
<text x="423.1" y="407.3" font-size="7.8" text-anchor="middle" font-weight="normal" fill="#1a1a1a" color="#1a1a1a">LSK</text>
<text x="486.7" y="407.3" font-size="7.8" text-anchor="middle" font-weight="normal" fill="#1a1a1a" color="#1a1a1a">LSK150</text>
<line x1="270" y1="412.6" x2="389" y2="412.6" stroke="#000" stroke-width="1.6"/>
<line x1="397.5" y1="412.6" x2="514.3" y2="412.6" stroke="#000" stroke-width="1.6"/>
<text x="329.6" y="421.0" font-size="9.0" text-anchor="middle" font-weight="normal" fill="#1a1a1a" color="#1a1a1a" textLength="21.4" lengthAdjust="spacingAndGlyphs">Day9</text>
<text x="455.4" y="421.0" font-size="9.0" text-anchor="middle" font-weight="normal" fill="#1a1a1a" color="#1a1a1a" textLength="26.0" lengthAdjust="spacingAndGlyphs">Day21</text>
<path d="M273.5,249.0 V245.5 H316.7 V249.0" fill="none" stroke="#333" stroke-width="1.1"/>
<text x="296.2" y="246.81" font-size="11.5" text-anchor="middle" font-weight="normal" fill="#333" color="#333" style="stroke-width:0.35px">*</text>
<path d="M337.3,263.7 V260.2 H380 V263.7" fill="none" stroke="#333" stroke-width="1.1"/>
<text x="357.8" y="260.01" font-size="11.5" text-anchor="middle" font-weight="normal" fill="#333" color="#333" style="stroke-width:0.35px">*</text>
<path d="M357,278.9 V275.4 H380 V278.9" fill="none" stroke="#333" stroke-width="1.1"/>
<text x="368.9" y="275.60999999999996" font-size="11.5" text-anchor="middle" font-weight="normal" fill="#333" color="#333" style="stroke-width:0.35px">*</text>
<path d="M337.3,294.0 V290.5 H359.5 V294.0" fill="none" stroke="#333" stroke-width="1.1"/>
<text x="347.7" y="291.71" font-size="11.5" text-anchor="middle" font-weight="normal" fill="#333" color="#333" style="stroke-width:0.35px">*</text>
<text x="224.8" y="320.9" font-size="9.35" text-anchor="middle" font-weight="normal" fill="#222" color="#222" transform="rotate(-90 224.8 320.9)">Donor HSPCs frequency</text>
<text x="235.4" y="320.2" font-size="9.3" text-anchor="middle" font-weight="normal" fill="#222" color="#222" transform="rotate(-90 235.4 320.2)">(% of CD45+ cells)</text>
<text x="0.0" y="450.2" font-size="13.6" text-anchor="start" font-weight="bold" fill="#000" color="#000">D</text>
<line x1="58.6" y1="485.0" x2="58.6" y2="656" stroke="#8c8c8c" stroke-width="1"/>
<line x1="55.800000000000004" y1="612.5" x2="58.6" y2="612.5" stroke="#8c8c8c" stroke-width="1"/>
<g transform="translate(48.1 616.8) scale(0.92 1)"><text x="0" y="0" font-size="10.5" text-anchor="end" fill="#1a1a1a" color="#1a1a1a">0</text></g>
<line x1="55.800000000000004" y1="587.1" x2="58.6" y2="587.1" stroke="#8c8c8c" stroke-width="1"/>
<g transform="translate(48.1 591.4) scale(0.92 1)"><text x="0" y="0" font-size="10.5" text-anchor="end" fill="#1a1a1a" color="#1a1a1a">100</text></g>
<line x1="55.800000000000004" y1="561.7" x2="58.6" y2="561.7" stroke="#8c8c8c" stroke-width="1"/>
<g transform="translate(48.1 566.0) scale(0.92 1)"><text x="0" y="0" font-size="10.5" text-anchor="end" fill="#1a1a1a" color="#1a1a1a">200</text></g>
<line x1="55.800000000000004" y1="536.3" x2="58.6" y2="536.3" stroke="#8c8c8c" stroke-width="1"/>
<g transform="translate(48.1 540.5999999999999) scale(0.92 1)"><text x="0" y="0" font-size="10.5" text-anchor="end" fill="#1a1a1a" color="#1a1a1a">300</text></g>
<line x1="55.800000000000004" y1="510.9" x2="58.6" y2="510.9" stroke="#8c8c8c" stroke-width="1"/>
<g transform="translate(48.1 515.1999999999999) scale(0.92 1)"><text x="0" y="0" font-size="10.5" text-anchor="end" fill="#1a1a1a" color="#1a1a1a">400</text></g>
<line x1="55.800000000000004" y1="485.5" x2="58.6" y2="485.5" stroke="#8c8c8c" stroke-width="1"/>
<g transform="translate(48.1 489.8) scale(0.92 1)"><text x="0" y="0" font-size="10.5" text-anchor="end" fill="#1a1a1a" color="#1a1a1a">500</text></g>
<line x1="58.6" y1="612.5" x2="187.8" y2="612.5" stroke="#8c8c8c" stroke-width="1"/>
<line x1="80.5" y1="612.5" x2="80.5" y2="632.5" stroke="#8c8c8c" stroke-width="1"/>
<line x1="101.8" y1="612.5" x2="101.8" y2="632.5" stroke="#8c8c8c" stroke-width="1"/>
<line x1="123.2" y1="612.5" x2="123.2" y2="656" stroke="#8c8c8c" stroke-width="1"/>
<line x1="144.4" y1="612.5" x2="144.4" y2="632.5" stroke="#8c8c8c" stroke-width="1"/>
<line x1="165.8" y1="612.5" x2="165.8" y2="632.5" stroke="#8c8c8c" stroke-width="1"/>
<line x1="187.7" y1="612.5" x2="187.7" y2="656" stroke="#8c8c8c" stroke-width="1"/>
<line x1="64.75" y1="586.7" x2="74" y2="586.7" stroke="#333" stroke-width="1"/>
<rect x="61.75" y="587" width="15.25" height="25.5" fill="#000" stroke="none" stroke-width="1"/>
<text x="68.575" y="631.4" font-size="9.4" text-anchor="middle" font-weight="normal" fill="#1a1a1a" color="#1a1a1a">Dia</text>
<path d="M90.75,565 V543 M88.15,543 H93.35" fill="none" stroke="#333" stroke-width="1.25"/>
<rect x="83.25" y="565" width="15.0" height="47.5" fill="#000" stroke="none" stroke-width="1"/>
<text x="89.95" y="631.4" font-size="9.4" text-anchor="middle" font-weight="normal" fill="#1a1a1a" color="#1a1a1a">Epi</text>
<path d="M112.25,536.25 V510.5 M109.65,510.5 H114.85" fill="none" stroke="#333" stroke-width="1.25"/>
<rect x="104.5" y="536.25" width="15.5" height="76.25" fill="#000" stroke="none" stroke-width="1"/>
<text x="111.45" y="631.4" font-size="9.4" text-anchor="middle" font-weight="normal" fill="#1a1a1a" color="#1a1a1a">Cal</text>
<line x1="129" y1="586.4000000000001" x2="138.6" y2="586.4000000000001" stroke="#333" stroke-width="1"/>
<rect x="126" y="586.7" width="15.599999999999994" height="25.799999999999955" fill="#000" stroke="none" stroke-width="1"/>
<text x="133.0" y="631.4" font-size="9.4" text-anchor="middle" font-weight="normal" fill="#1a1a1a" color="#1a1a1a">Dia</text>
<path d="M155.15,570.6 V543 M152.55,543 H157.75" fill="none" stroke="#333" stroke-width="1.25"/>
<rect x="147.5" y="570.6" width="15.300000000000011" height="41.89999999999998" fill="#000" stroke="none" stroke-width="1"/>
<text x="154.35" y="631.4" font-size="9.4" text-anchor="middle" font-weight="normal" fill="#1a1a1a" color="#1a1a1a">Epi</text>
<path d="M176.75,536.3 V511.6 M174.15,511.6 H179.35" fill="none" stroke="#333" stroke-width="1.25"/>
<rect x="169" y="536.3" width="15.5" height="76.20000000000005" fill="#000" stroke="none" stroke-width="1"/>
<text x="175.95" y="631.4" font-size="9.4" text-anchor="middle" font-weight="normal" fill="#1a1a1a" color="#1a1a1a">Cal</text>
<text x="90.4" y="652.2" font-size="9.5" text-anchor="middle" font-weight="normal" fill="#1a1a1a" color="#1a1a1a">LSK</text>
<text x="152.6" y="652.2" font-size="9.5" text-anchor="middle" font-weight="normal" fill="#1a1a1a" color="#1a1a1a">LSKCD150</text>
<path d="M68.1,506.4 V502.9 H112.3 V506.4" fill="none" stroke="#333" stroke-width="1.1"/>
<text x="90.2" y="506.69" font-size="13.5" text-anchor="middle" font-weight="normal" fill="#333" color="#333" style="stroke-width:0.35px">**</text>
<path d="M68.1,539.3 V535.8 H90.6 V539.3" fill="none" stroke="#333" stroke-width="1.1"/>
<text x="79.4" y="538.6899999999999" font-size="13.5" text-anchor="middle" font-weight="normal" fill="#333" color="#333" style="stroke-width:0.35px">*</text>
<path d="M133.3,501.0 V497.5 H176.7 V501.0" fill="none" stroke="#333" stroke-width="1.1"/>
<text x="155.2" y="501.69" font-size="13.5" text-anchor="middle" font-weight="normal" fill="#333" color="#333" style="stroke-width:0.35px">**</text>
<path d="M154.4,510.3 V506.8 H176.7 V510.3" fill="none" stroke="#333" stroke-width="1.1"/>
<text x="164.8" y="510.29" font-size="13.5" text-anchor="middle" font-weight="normal" fill="#333" color="#333" style="stroke-width:0.35px">*</text>
<text x="10.0" y="549.7" font-size="10.75" text-anchor="middle" font-weight="normal" fill="#222" color="#222" transform="rotate(-90 10.0 549.7)">Homing efficiency</text>
<text x="21.8" y="549.0" font-size="10.8" text-anchor="middle" font-weight="normal" fill="#222" color="#222" transform="rotate(-90 21.8 549.0)">(% of Diaphysis value)</text>
<text x="245.2" y="448.6" font-size="13.6" text-anchor="start" font-weight="bold" fill="#000" color="#000">E</text>
<line x1="310.6" y1="490.5" x2="310.6" y2="639.5" stroke="#8c8c8c" stroke-width="1"/>
<line x1="306.6" y1="639.5" x2="310.6" y2="639.5" stroke="#8c8c8c" stroke-width="1"/>
<text x="292.3" y="644.5" font-size="8.7" text-anchor="end" font-weight="normal" fill="#1a1a1a" color="#1a1a1a">0%</text>
<line x1="306.6" y1="614.67" x2="310.6" y2="614.67" stroke="#8c8c8c" stroke-width="1"/>
<text x="292.3" y="619.67" font-size="8.7" text-anchor="end" font-weight="normal" fill="#1a1a1a" color="#1a1a1a">20%</text>
<line x1="306.6" y1="589.84" x2="310.6" y2="589.84" stroke="#8c8c8c" stroke-width="1"/>
<text x="292.3" y="594.84" font-size="8.7" text-anchor="end" font-weight="normal" fill="#1a1a1a" color="#1a1a1a">40%</text>
<line x1="306.6" y1="565.01" x2="310.6" y2="565.01" stroke="#8c8c8c" stroke-width="1"/>
<text x="292.3" y="570.01" font-size="8.7" text-anchor="end" font-weight="normal" fill="#1a1a1a" color="#1a1a1a">60%</text>
<line x1="306.6" y1="540.1800000000001" x2="310.6" y2="540.1800000000001" stroke="#8c8c8c" stroke-width="1"/>
<text x="292.3" y="545.1800000000001" font-size="8.7" text-anchor="end" font-weight="normal" fill="#1a1a1a" color="#1a1a1a">80%</text>
<line x1="306.6" y1="515.35" x2="310.6" y2="515.35" stroke="#8c8c8c" stroke-width="1"/>
<text x="292.3" y="520.35" font-size="8.7" text-anchor="end" font-weight="normal" fill="#1a1a1a" color="#1a1a1a">100%</text>
<line x1="306.6" y1="490.52" x2="310.6" y2="490.52" stroke="#8c8c8c" stroke-width="1"/>
<text x="292.3" y="495.52" font-size="8.7" text-anchor="end" font-weight="normal" fill="#1a1a1a" color="#1a1a1a">120%</text>
<line x1="310.6" y1="639.5" x2="474.3" y2="639.5" stroke="#8c8c8c" stroke-width="1"/>
<line x1="310.6" y1="639.5" x2="310.6" y2="642.5" stroke="#8c8c8c" stroke-width="1"/>
<line x1="365.5" y1="639.5" x2="365.5" y2="642.5" stroke="#8c8c8c" stroke-width="1"/>
<line x1="420" y1="639.5" x2="420" y2="642.5" stroke="#8c8c8c" stroke-width="1"/>
<line x1="474.3" y1="639.5" x2="474.3" y2="642.5" stroke="#8c8c8c" stroke-width="1"/>
<defs><pattern id="dots" x="328.7" y="529.6" width="7.3" height="7.25" patternUnits="userSpaceOnUse"><rect width="7.3" height="7.25" fill="#fff"/><rect x="0" y="0" width="1.2" height="1.2" fill="#8a8a8a"/><rect x="3.65" y="3.62" width="1.1" height="1.1" fill="#a0a0a0"/></pattern></defs>
<rect x="326" y="515.7" width="23.19999999999999" height="8.5" fill="#666" stroke="#555" stroke-width="0.8"/>
<rect x="326" y="524.2" width="23.19999999999999" height="37.69999999999993" fill="url(#dots)" stroke="#999" stroke-width="0.8"/>
<rect x="326" y="561.9" width="23.19999999999999" height="77.60000000000002" fill="#fff" stroke="#444" stroke-width="1.1"/>
<path d="M338,514.3 V518.5 M335.75,514.3 H340.25 M335.75,518.5 H340.25" fill="none" stroke="#222" stroke-width="1.1"/>
<path d="M338,520.8 V528.2 M335.75,520.8 H340.25 M335.75,528.2 H340.25" fill="none" stroke="#222" stroke-width="1.1"/>
<path d="M338,557.7 V566.5 M335.75,557.7 H340.25 M335.75,566.5 H340.25" fill="none" stroke="#222" stroke-width="1.1"/>
<rect x="381.5" y="515.7" width="21.69999999999999" height="10.799999999999955" fill="#666" stroke="#555" stroke-width="0.8"/>
<rect x="381.5" y="526.5" width="21.69999999999999" height="26.600000000000023" fill="url(#dots)" stroke="#999" stroke-width="0.8"/>
<rect x="381.5" y="553.1" width="21.69999999999999" height="86.39999999999998" fill="#fff" stroke="#444" stroke-width="1.1"/>
<path d="M392.4,514.3 V517.3 M390.15,514.3 H394.65 M390.15,517.3 H394.65" fill="none" stroke="#222" stroke-width="1.1"/>
<path d="M392.4,523 V529.6 M390.15,523 H394.65 M390.15,529.6 H394.65" fill="none" stroke="#222" stroke-width="1.1"/>
<path d="M392.4,550.3 V556.6 M390.15,550.3 H394.65 M390.15,556.6 H394.65" fill="none" stroke="#222" stroke-width="1.1"/>
<rect x="436.1" y="515.7" width="21.899999999999977" height="20.799999999999955" fill="#666" stroke="#555" stroke-width="0.8"/>
<rect x="436.1" y="536.5" width="21.899999999999977" height="40.89999999999998" fill="url(#dots)" stroke="#999" stroke-width="0.8"/>
<rect x="436.1" y="577.4" width="21.899999999999977" height="62.10000000000002" fill="#fff" stroke="#444" stroke-width="1.1"/>
<path d="M447,510.4 V520.8 M444.75,510.4 H449.25 M444.75,520.8 H449.25" fill="none" stroke="#222" stroke-width="1.1"/>
<path d="M447,532.4 V541.1 M444.75,532.4 H449.25 M444.75,541.1 H449.25" fill="none" stroke="#222" stroke-width="1.1"/>
<path d="M447,568.8 V586.6 M444.75,568.8 H449.25 M444.75,586.6 H449.25" fill="none" stroke="#222" stroke-width="1.1"/>
<text x="337.6" y="651.4" font-size="9.8" text-anchor="middle" font-weight="normal" fill="#111" color="#111">Dia</text>
<text x="392.4" y="651.4" font-size="9.8" text-anchor="middle" font-weight="normal" fill="#111" color="#111">Epi</text>
<text x="447" y="651.4" font-size="9.8" text-anchor="middle" font-weight="normal" fill="#111" color="#111">Cal</text>
<path d="M337.4,491.2 V487.7 H444.9 V491.2" fill="none" stroke="#333" stroke-width="1.1"/>
<text x="391.7" y="487.01" font-size="11.5" text-anchor="middle" font-weight="normal" fill="#333" color="#333" style="stroke-width:0.35px">*</text>
<path d="M337.4,510.2 V506.8 H387.3 V510.2" fill="none" stroke="#333" stroke-width="1.1"/>
<text x="361.2" y="508.21" font-size="11.5" text-anchor="middle" font-weight="normal" fill="#333" color="#333" style="stroke-width:0.35px">*</text>
<path d="M397.4,505.0 V501.6 H446.6 V505.0" fill="none" stroke="#333" stroke-width="1.1"/>
<text x="424.7" y="503.10999999999996" font-size="11.5" text-anchor="middle" font-weight="normal" fill="#333" color="#333" style="stroke-width:0.35px">*</text>
<text x="264.0" y="574" font-size="10.0" text-anchor="middle" font-weight="normal" fill="#222" color="#222" transform="rotate(-90 264.0 574)">% of leukocytes</text>
<rect x="401.8" y="440.6" width="4.7" height="4.3" fill="#6a6a6a" stroke="#555" stroke-width="0.7"/>
<text x="408.6" y="446.3" font-size="9.0" text-anchor="start" font-weight="normal" fill="#1a1a1a" color="#1a1a1a" textLength="98.6" lengthAdjust="spacingAndGlyphs">Necrotic (DAPI+; AnV+)</text>
<rect x="401.8" y="451.5" width="4.7" height="4.3" fill="#fff" stroke="#999" stroke-width="0.8"/>
<text x="409.6" y="456.9" font-size="9.0" text-anchor="start" font-weight="normal" fill="#1a1a1a" color="#1a1a1a" textLength="101.2" lengthAdjust="spacingAndGlyphs">Apoptotic (DAPI-; AnV+)</text>
<rect x="401.8" y="461.7" width="4.7" height="4.3" fill="#fff" stroke="#222" stroke-width="1.1"/>
<text x="408.6" y="467.6" font-size="9.0" text-anchor="start" font-weight="normal" fill="#1a1a1a" color="#1a1a1a">Live</text>
</svg></body></html>
